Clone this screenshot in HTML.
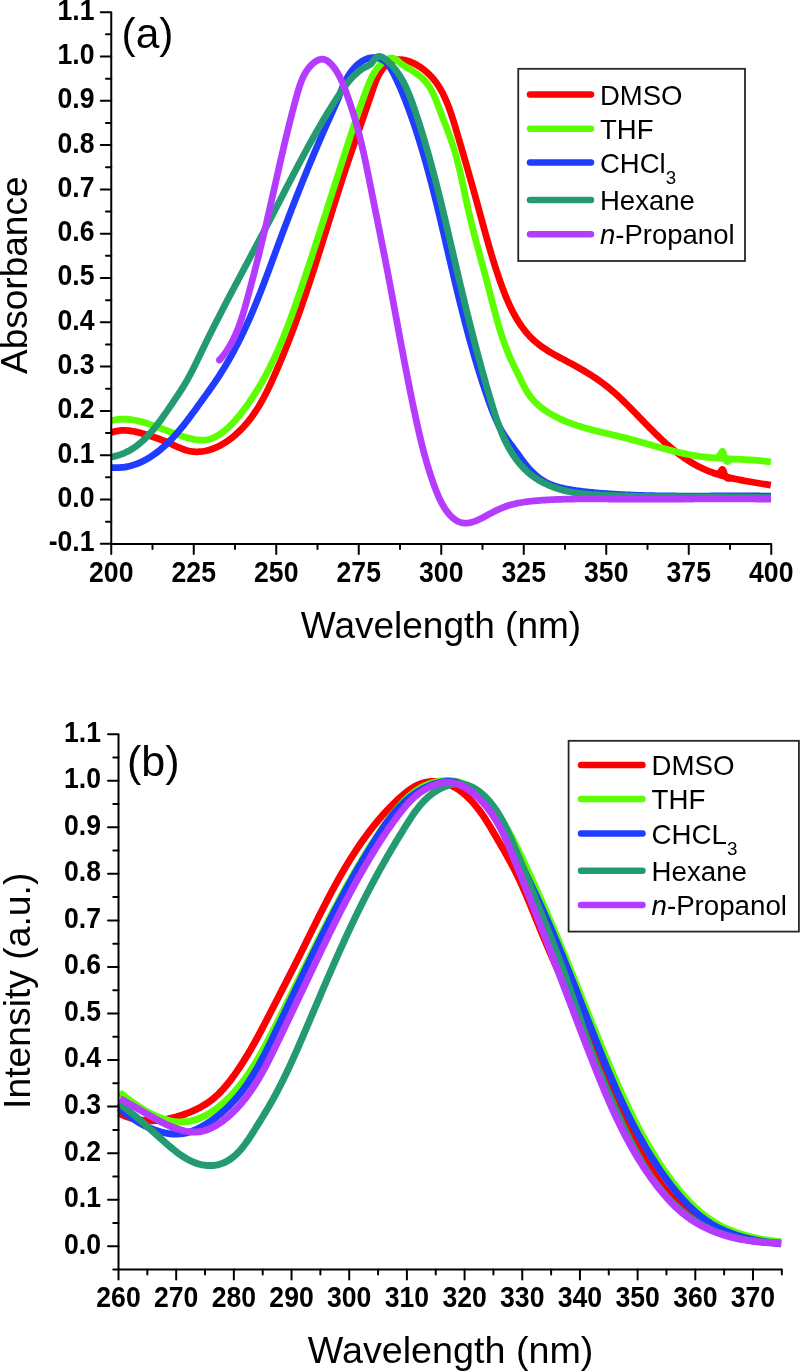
<!DOCTYPE html>
<html><head><meta charset="utf-8"><title>Absorbance and emission spectra</title>
<style>html,body{margin:0;padding:0;background:#fff;width:800px;height:1372px;overflow:hidden}
svg text{font-family:"Liberation Sans", sans-serif;fill:#000}</style></head>
<body>
<svg width="800" height="1372" viewBox="0 0 800 1372" style="position:absolute;left:0;top:0;will-change:transform">
<rect width="800" height="1372" fill="#fff"/>
<text x="441" y="638" text-anchor="middle" font-size="37">Wavelength (nm)</text>
<text x="450.6" y="1363" text-anchor="middle" font-size="37.7">Wavelength (nm)</text>
<text transform="translate(27,275.25) rotate(-90)" text-anchor="middle" font-size="37">Absorbance</text>
<text transform="translate(29.6,990.8) rotate(-90)" text-anchor="middle" font-size="37.3">Intensity (a.u.)</text>
<text x="121.5" y="47.5" font-size="42.5">(a)</text>
<text x="127" y="776" font-size="43">(b)</text>
<path d="M110.97 432.63L112.40 432.15L113.84 431.72L115.29 431.35L116.77 431.04L118.25 430.80L119.74 430.61L121.24 430.48L122.74 430.41L124.25 430.40L125.75 430.43L127.25 430.52L128.75 430.65L130.24 430.83L131.73 431.04L133.21 431.29L134.69 431.58L136.16 431.89L137.62 432.24L139.08 432.60L140.53 432.99L141.98 433.40L143.42 433.82L144.86 434.26L146.30 434.71L147.73 435.16L149.16 435.63L150.59 436.09L152.02 436.56L153.45 437.03L154.88 437.51L156.30 437.99L157.72 438.49L159.14 438.99L160.55 439.51L161.96 440.04L163.36 440.58L164.75 441.14L166.14 441.72L167.52 442.32L168.89 442.93L170.26 443.56L171.63 444.19L172.99 444.83L174.35 445.47L175.71 446.10L177.08 446.72L178.46 447.33L179.84 447.92L181.23 448.49L182.63 449.04L184.05 449.54L185.48 450.01L186.92 450.44L188.38 450.80L189.85 451.12L191.33 451.37L192.82 451.56L194.32 451.69L195.82 451.76L197.33 451.78L198.83 451.74L200.33 451.64L201.82 451.49L203.31 451.28L204.80 451.03L206.27 450.72L207.73 450.37L209.18 449.97L210.62 449.53L212.04 449.05L213.45 448.53L214.85 447.97L216.23 447.38L217.60 446.75L218.95 446.09L220.28 445.39L221.60 444.67L222.90 443.92L224.19 443.14L225.46 442.34L226.72 441.51L227.96 440.66L229.18 439.79L230.39 438.89L231.58 437.97L232.76 437.04L233.92 436.08L235.06 435.11L236.19 434.12L237.31 433.11L238.41 432.08L239.49 431.04L240.56 429.98L241.62 428.91L242.65 427.82L243.68 426.72L244.68 425.60L245.68 424.47L246.65 423.33L247.62 422.17L248.56 421.01L249.49 419.83L250.41 418.64L251.31 417.43L252.20 416.22L253.08 415.00L253.94 413.76L254.79 412.52L255.62 411.27L256.44 410.01L257.25 408.74L258.05 407.47L258.84 406.19L259.61 404.90L260.37 403.60L261.12 402.30L261.86 400.99L262.59 399.68L263.32 398.36L264.03 397.03L264.73 395.70L265.42 394.37L266.11 393.03L266.79 391.69L267.46 390.34L268.12 388.99L268.77 387.64L269.42 386.28L270.07 384.92L270.70 383.56L271.34 382.20L271.96 380.83L272.59 379.46L273.21 378.09L273.82 376.72L274.43 375.34L275.04 373.97L275.65 372.59L276.25 371.22L276.85 369.84L277.45 368.46L278.04 367.08L278.64 365.69L279.23 364.31L279.81 362.93L280.40 361.54L280.98 360.15L281.56 358.76L282.13 357.38L282.70 355.99L283.28 354.59L283.84 353.20L284.41 351.81L284.97 350.41L285.53 349.02L286.09 347.62L286.65 346.23L287.20 344.83L287.75 343.43L288.30 342.03L288.84 340.63L289.39 339.22L289.93 337.82L290.47 336.42L291.01 335.01L291.54 333.61L292.07 332.20L292.60 330.79L293.13 329.39L293.66 327.98L294.18 326.57L294.70 325.16L295.22 323.75L295.74 322.33L296.26 320.92L296.77 319.51L297.28 318.10L297.79 316.68L298.30 315.27L298.81 313.85L299.31 312.43L299.81 311.02L300.31 309.60L300.81 308.18L301.31 306.76L301.80 305.34L302.30 303.92L302.79 302.50L303.28 301.08L303.77 299.65L304.26 298.23L304.74 296.81L305.23 295.39L305.71 293.96L306.19 292.54L306.67 291.11L307.15 289.69L307.63 288.26L308.10 286.83L308.58 285.41L309.05 283.98L309.52 282.55L309.99 281.12L310.46 279.69L310.93 278.27L311.40 276.84L311.87 275.41L312.33 273.98L312.79 272.55L313.26 271.12L313.72 269.69L314.18 268.25L314.64 266.82L315.10 265.39L315.56 263.96L316.02 262.53L316.48 261.09L316.93 259.66L317.39 258.23L317.84 256.79L318.30 255.36L318.75 253.93L319.20 252.49L319.66 251.06L320.11 249.63L320.56 248.19L321.01 246.76L321.46 245.32L321.91 243.89L322.36 242.45L322.81 241.02L323.26 239.58L323.71 238.15L324.16 236.71L324.61 235.28L325.06 233.84L325.50 232.41L325.95 230.97L326.40 229.54L326.85 228.10L327.30 226.66L327.74 225.23L328.19 223.79L328.64 222.36L329.09 220.92L329.53 219.49L329.98 218.05L330.43 216.62L330.88 215.18L331.33 213.75L331.78 212.31L332.23 210.88L332.68 209.44L333.13 208.01L333.58 206.57L334.03 205.14L334.48 203.70L334.93 202.27L335.38 200.83L335.83 199.40L336.29 197.97L336.74 196.53L337.20 195.10L337.65 193.66L338.11 192.23L338.56 190.80L339.02 189.37L339.48 187.93L339.94 186.50L340.40 185.07L340.86 183.64L341.32 182.21L341.78 180.78L342.24 179.35L342.71 177.92L343.17 176.49L343.64 175.06L344.11 173.63L344.58 172.20L345.05 170.77L345.52 169.34L345.99 167.91L346.46 166.49L346.94 165.06L347.41 163.63L347.89 162.21L348.37 160.78L348.85 159.36L349.33 157.93L349.81 156.51L350.29 155.08L350.78 153.66L351.26 152.24L351.75 150.81L352.23 149.39L352.72 147.97L353.21 146.54L353.70 145.12L354.19 143.70L354.68 142.28L355.17 140.86L355.66 139.44L356.15 138.01L356.64 136.59L357.13 135.17L357.62 133.75L358.12 132.33L358.61 130.91L359.10 129.49L359.60 128.07L360.09 126.65L360.58 125.23L361.08 123.81L361.57 122.39L362.06 120.97L362.56 119.55L363.05 118.13L363.54 116.70L364.04 115.28L364.53 113.86L365.02 112.44L365.51 111.02L366.00 109.60L366.49 108.18L366.98 106.76L367.47 105.33L367.96 103.91L368.45 102.49L368.94 101.07L369.42 99.64L369.91 98.22L370.39 96.80L370.88 95.37L371.36 93.95L371.84 92.53L372.32 91.10L372.80 89.68L373.29 88.25L373.78 86.83L374.28 85.41L374.80 84.00L375.33 82.59L375.88 81.20L376.46 79.81L377.07 78.43L377.70 77.07L378.37 75.72L379.08 74.40L379.82 73.09L380.61 71.81L381.43 70.55L382.30 69.32L383.21 68.12L384.17 66.97L385.18 65.86L386.25 64.80L387.38 63.80L388.57 62.88L389.82 62.05L391.14 61.33L392.52 60.73L393.94 60.26L395.41 59.91L396.89 59.67L398.39 59.56L399.89 59.55L401.39 59.63L402.89 59.81L404.37 60.06L405.84 60.39L407.29 60.79L408.72 61.25L410.13 61.76L411.53 62.32L412.90 62.93L414.26 63.58L415.59 64.28L416.90 65.01L418.20 65.78L419.47 66.58L420.72 67.41L421.95 68.28L423.16 69.17L424.35 70.10L425.51 71.05L426.64 72.04L427.76 73.05L428.84 74.09L429.91 75.15L430.94 76.24L431.95 77.35L432.94 78.49L433.90 79.65L434.83 80.83L435.73 82.03L436.62 83.25L437.47 84.48L438.31 85.73L439.11 87.00L439.90 88.29L440.66 89.58L441.40 90.89L442.12 92.21L442.82 93.54L443.49 94.89L444.15 96.24L444.79 97.60L445.42 98.97L446.02 100.34L446.61 101.73L447.19 103.12L447.75 104.51L448.29 105.91L448.83 107.32L449.35 108.73L449.86 110.14L450.36 111.56L450.85 112.98L451.33 114.41L451.80 115.84L452.26 117.27L452.72 118.70L453.17 120.13L453.62 121.57L454.06 123.01L454.50 124.45L454.93 125.88L455.37 127.33L455.80 128.77L456.23 130.21L456.65 131.65L457.08 133.09L457.51 134.53L457.94 135.97L458.36 137.42L458.79 138.86L459.21 140.30L459.64 141.74L460.06 143.19L460.49 144.63L460.91 146.07L461.33 147.51L461.75 148.96L462.18 150.40L462.60 151.84L463.02 153.29L463.44 154.73L463.86 156.18L464.28 157.62L464.69 159.07L465.11 160.51L465.53 161.95L465.94 163.40L466.36 164.84L466.78 166.29L467.19 167.74L467.60 169.18L468.02 170.63L468.43 172.07L468.84 173.52L469.25 174.97L469.66 176.41L470.08 177.86L470.48 179.31L470.89 180.75L471.30 182.20L471.71 183.65L472.12 185.09L472.52 186.54L472.93 187.99L473.34 189.44L473.74 190.89L474.14 192.34L474.55 193.78L474.95 195.23L475.35 196.68L475.75 198.13L476.15 199.58L476.55 201.03L476.95 202.48L477.35 203.93L477.75 205.38L478.15 206.83L478.54 208.28L478.94 209.73L479.34 211.18L479.73 212.63L480.13 214.08L480.52 215.53L480.91 216.99L481.31 218.44L481.70 219.89L482.10 221.34L482.49 222.79L482.89 224.24L483.29 225.69L483.68 227.14L484.08 228.59L484.48 230.04L484.88 231.49L485.28 232.94L485.68 234.39L486.09 235.84L486.49 237.29L486.90 238.73L487.31 240.18L487.72 241.63L488.13 243.07L488.54 244.52L488.96 245.97L489.37 247.41L489.79 248.85L490.22 250.30L490.64 251.74L491.07 253.18L491.50 254.62L491.93 256.06L492.36 257.50L492.80 258.94L493.24 260.38L493.69 261.82L494.14 263.25L494.59 264.69L495.04 266.12L495.50 267.55L495.96 268.98L496.42 270.41L496.89 271.84L497.37 273.27L497.84 274.70L498.32 276.12L498.81 277.54L499.30 278.97L499.79 280.39L500.29 281.81L500.79 283.22L501.30 284.64L501.81 286.05L502.33 287.46L502.85 288.87L503.38 290.28L503.92 291.68L504.46 293.09L505.02 294.49L505.58 295.88L506.14 297.27L506.72 298.66L507.31 300.04L507.91 301.43L508.51 302.80L509.13 304.17L509.76 305.54L510.40 306.90L511.05 308.25L511.72 309.60L512.39 310.95L513.08 312.28L513.79 313.61L514.51 314.93L515.24 316.24L515.99 317.55L516.75 318.85L517.53 320.13L518.32 321.41L519.13 322.68L519.96 323.93L520.80 325.18L521.66 326.41L522.54 327.63L523.44 328.83L524.36 330.02L525.30 331.20L526.25 332.36L527.23 333.51L528.22 334.64L529.23 335.75L530.27 336.84L531.32 337.91L532.40 338.96L533.49 340.00L534.60 341.01L535.73 342.00L536.89 342.96L538.06 343.91L539.24 344.83L540.45 345.73L541.66 346.62L542.89 347.48L544.14 348.33L545.39 349.16L546.66 349.97L547.93 350.77L549.21 351.55L550.50 352.33L551.80 353.09L553.10 353.84L554.41 354.58L555.72 355.32L557.04 356.04L558.36 356.76L559.68 357.48L561.01 358.19L562.33 358.89L563.66 359.60L564.99 360.30L566.32 361.01L567.65 361.71L568.98 362.41L570.30 363.12L571.63 363.83L572.95 364.55L574.27 365.27L575.59 366.00L576.90 366.73L578.21 367.47L579.52 368.21L580.82 368.96L582.12 369.71L583.42 370.47L584.71 371.24L586.00 372.02L587.29 372.80L588.56 373.59L589.84 374.39L591.11 375.20L592.37 376.01L593.63 376.84L594.88 377.67L596.13 378.51L597.37 379.36L598.60 380.22L599.83 381.09L601.05 381.97L602.26 382.86L603.47 383.76L604.67 384.67L605.86 385.59L607.04 386.52L608.21 387.46L609.37 388.41L610.53 389.37L611.68 390.34L612.82 391.32L613.96 392.30L615.08 393.30L616.20 394.30L617.32 395.31L618.43 396.33L619.53 397.35L620.62 398.38L621.71 399.42L622.80 400.46L623.88 401.50L624.96 402.55L626.03 403.61L627.10 404.67L628.16 405.73L629.22 406.80L630.28 407.86L631.33 408.94L632.39 410.01L633.44 411.09L634.48 412.17L635.53 413.24L636.58 414.33L637.62 415.41L638.66 416.49L639.71 417.57L640.75 418.66L641.79 419.74L642.84 420.82L643.88 421.90L644.93 422.98L645.98 424.06L647.03 425.14L648.08 426.21L649.13 427.29L650.19 428.36L651.25 429.42L652.31 430.49L653.38 431.55L654.45 432.61L655.52 433.66L656.60 434.71L657.68 435.75L658.77 436.79L659.86 437.83L660.95 438.85L662.05 439.88L663.16 440.90L664.27 441.91L665.39 442.91L666.52 443.91L667.65 444.90L668.78 445.89L669.93 446.87L671.08 447.84L672.23 448.80L673.40 449.75L674.57 450.69L675.75 451.63L676.93 452.55L678.12 453.47L679.33 454.37L680.54 455.26L681.75 456.15L682.98 457.02L684.21 457.88L685.46 458.72L686.71 459.56L687.97 460.38L689.24 461.19L690.51 461.98L691.80 462.76L693.09 463.52L694.40 464.27L695.71 465.01L697.03 465.72L698.36 466.42L699.70 467.11L701.05 467.77L702.41 468.42L703.77 469.05L705.14 469.67L706.53 470.26L707.91 470.84L709.31 471.39L710.72 471.93L712.13 472.46L713.54 472.96L714.96 473.45L716.39 473.93L717.82 474.39L719.26 474.83L720.70 475.26L722.14 475.68L723.59 476.09L725.04 476.48L726.50 476.86L727.95 477.23L729.41 477.59L730.88 477.94L732.34 478.28L733.81 478.61L735.28 478.93L736.75 479.24L738.22 479.55L739.70 479.85L741.17 480.13L742.65 480.42L744.13 480.70L745.60 480.97L747.08 481.23L748.57 481.50L750.05 481.75L751.53 482.01L753.01 482.26L754.49 482.51L755.98 482.75L757.46 483.00L758.95 483.24L760.43 483.48L761.91 483.72L763.40 483.96L764.88 484.20L766.37 484.45L767.85 484.69L769.33 484.94L770.82 485.19" fill="none" stroke="#ff0000" stroke-width="6.75" stroke-linejoin="round" stroke-linecap="butt"/>
<path d="M111.05 420.70L112.50 420.32L113.97 420.00L115.45 419.72L116.93 419.50L118.43 419.33L119.92 419.21L121.42 419.13L122.93 419.10L124.43 419.12L125.93 419.17L127.43 419.27L128.93 419.40L130.42 419.56L131.91 419.76L133.40 419.99L134.88 420.25L136.35 420.54L137.82 420.86L139.28 421.20L140.74 421.56L142.20 421.94L143.64 422.34L145.09 422.76L146.52 423.20L147.96 423.66L149.39 424.12L150.81 424.60L152.23 425.09L153.65 425.60L155.06 426.11L156.47 426.63L157.87 427.16L159.28 427.69L160.68 428.23L162.08 428.77L163.48 429.32L164.88 429.86L166.28 430.41L167.69 430.95L169.09 431.50L170.49 432.04L171.89 432.57L173.30 433.10L174.71 433.62L176.12 434.13L177.54 434.63L178.96 435.13L180.38 435.61L181.81 436.07L183.24 436.53L184.68 436.97L186.12 437.39L187.57 437.80L189.02 438.19L190.48 438.56L191.94 438.90L193.41 439.21L194.89 439.49L196.37 439.73L197.86 439.93L199.36 440.07L200.86 440.15L202.36 440.17L203.86 440.12L205.36 439.99L206.84 439.77L208.32 439.47L209.77 439.08L211.20 438.62L212.61 438.09L213.99 437.50L215.34 436.85L216.67 436.15L217.97 435.39L219.24 434.60L220.50 433.77L221.72 432.90L222.93 432.00L224.11 431.08L225.28 430.13L226.42 429.16L227.55 428.16L228.66 427.15L229.75 426.11L230.82 425.06L231.88 423.99L232.92 422.91L233.94 421.81L234.95 420.69L235.95 419.57L236.93 418.43L237.90 417.28L238.86 416.12L239.80 414.96L240.74 413.78L241.66 412.60L242.58 411.41L243.49 410.21L244.39 409.01L245.29 407.80L246.17 406.59L247.05 405.37L247.92 404.14L248.78 402.91L249.64 401.68L250.49 400.44L251.33 399.19L252.17 397.94L252.99 396.69L253.81 395.43L254.63 394.16L255.43 392.90L256.23 391.62L257.02 390.35L257.81 389.06L258.58 387.78L259.35 386.49L260.12 385.19L260.88 383.90L261.63 382.59L262.37 381.29L263.11 379.98L263.84 378.66L264.56 377.35L265.28 376.03L265.99 374.70L266.69 373.38L267.39 372.05L268.09 370.71L268.77 369.38L269.45 368.04L270.13 366.69L270.80 365.35L271.46 364.00L272.12 362.65L272.77 361.29L273.42 359.94L274.06 358.58L274.69 357.22L275.32 355.85L275.95 354.49L276.57 353.12L277.18 351.75L277.79 350.37L278.40 349.00L279.00 347.62L279.60 346.24L280.19 344.86L280.77 343.47L281.36 342.09L281.93 340.70L282.51 339.31L283.08 337.92L283.64 336.53L284.21 335.14L284.76 333.74L285.32 332.34L285.87 330.95L286.42 329.55L286.96 328.15L287.50 326.74L288.04 325.34L288.57 323.93L289.10 322.53L289.63 321.12L290.15 319.71L290.67 318.30L291.19 316.89L291.71 315.48L292.22 314.07L292.73 312.66L293.24 311.24L293.74 309.83L294.25 308.41L294.75 306.99L295.25 305.58L295.75 304.16L296.24 302.74L296.74 301.32L297.23 299.90L297.72 298.48L298.21 297.06L298.70 295.64L299.19 294.22L299.67 292.79L300.16 291.37L300.64 289.95L301.12 288.53L301.60 287.10L302.08 285.68L302.56 284.25L303.04 282.83L303.52 281.41L304.00 279.98L304.48 278.56L304.95 277.13L305.43 275.71L305.90 274.28L306.38 272.85L306.85 271.43L307.33 270.00L307.80 268.57L308.27 267.15L308.74 265.72L309.21 264.29L309.68 262.87L310.15 261.44L310.62 260.01L311.09 258.58L311.56 257.15L312.02 255.73L312.49 254.30L312.96 252.87L313.42 251.44L313.89 250.01L314.35 248.58L314.82 247.15L315.28 245.72L315.74 244.29L316.21 242.86L316.67 241.43L317.13 240.00L317.59 238.57L318.05 237.14L318.51 235.71L318.98 234.28L319.44 232.85L319.90 231.42L320.36 229.99L320.82 228.56L321.27 227.13L321.73 225.70L322.19 224.27L322.65 222.84L323.11 221.41L323.57 219.97L324.02 218.54L324.48 217.11L324.94 215.68L325.40 214.25L325.85 212.82L326.31 211.39L326.77 209.95L327.22 208.52L327.68 207.09L328.14 205.66L328.59 204.23L329.05 202.80L329.51 201.36L329.96 199.93L330.42 198.50L330.88 197.07L331.33 195.64L331.79 194.20L332.24 192.77L332.70 191.34L333.16 189.91L333.61 188.48L334.07 187.05L334.53 185.61L334.98 184.18L335.44 182.75L335.90 181.32L336.35 179.89L336.81 178.46L337.27 177.02L337.72 175.59L338.18 174.16L338.64 172.73L339.10 171.30L339.56 169.87L340.01 168.44L340.47 167.00L340.93 165.57L341.39 164.14L341.85 162.71L342.31 161.28L342.77 159.85L343.23 158.42L343.69 156.99L344.15 155.56L344.61 154.13L345.08 152.70L345.54 151.27L346.00 149.84L346.46 148.41L346.93 146.98L347.39 145.55L347.86 144.12L348.32 142.69L348.79 141.26L349.25 139.83L349.72 138.41L350.18 136.98L350.65 135.55L351.12 134.12L351.59 132.69L352.06 131.27L352.53 129.84L353.00 128.41L353.47 126.98L353.94 125.56L354.41 124.13L354.88 122.70L355.36 121.28L355.83 119.85L356.31 118.43L356.79 117.00L357.27 115.58L357.75 114.16L358.24 112.73L358.72 111.31L359.21 109.89L359.70 108.47L360.19 107.05L360.69 105.63L361.18 104.21L361.68 102.79L362.19 101.38L362.69 99.96L363.20 98.55L363.71 97.14L364.22 95.72L364.74 94.31L365.26 92.90L365.79 91.49L366.31 90.09L366.85 88.68L367.39 87.28L367.93 85.88L368.49 84.48L369.07 83.10L369.65 81.71L370.26 80.34L370.89 78.97L371.55 77.62L372.23 76.28L372.94 74.96L373.68 73.65L374.46 72.37L375.27 71.10L376.12 69.86L377.01 68.65L377.94 67.47L378.92 66.33L379.93 65.22L380.99 64.15L382.09 63.13L383.23 62.16L384.42 61.23L385.64 60.36L386.92 59.56L388.25 58.87L389.65 58.33L391.12 58.01L392.62 58.03L394.06 58.44L395.38 59.14L396.62 60.00L397.79 60.94L398.94 61.90L400.10 62.86L401.28 63.79L402.51 64.66L403.77 65.47L405.05 66.26L406.33 67.05L407.61 67.83L408.89 68.62L410.17 69.41L411.44 70.21L412.71 71.02L413.96 71.85L415.21 72.69L416.44 73.55L417.65 74.44L418.85 75.34L420.03 76.28L421.17 77.25L422.29 78.25L423.38 79.29L424.43 80.37L425.44 81.48L426.40 82.64L427.32 83.82L428.20 85.04L429.04 86.28L429.85 87.55L430.62 88.85L431.35 90.16L432.06 91.48L432.73 92.83L433.38 94.18L434.01 95.55L434.62 96.92L435.20 98.30L435.77 99.69L436.33 101.09L436.88 102.49L437.42 103.89L437.95 105.30L438.48 106.70L439.00 108.11L439.53 109.52L440.06 110.93L440.60 112.33L441.14 113.73L441.68 115.13L442.22 116.54L442.76 117.94L443.31 119.34L443.86 120.74L444.40 122.14L444.95 123.54L445.49 124.94L446.04 126.34L446.58 127.74L447.12 129.14L447.65 130.55L448.18 131.95L448.71 133.36L449.23 134.77L449.74 136.18L450.25 137.60L450.76 139.01L451.25 140.43L451.74 141.85L452.22 143.28L452.69 144.71L453.15 146.14L453.60 147.57L454.04 149.01L454.47 150.44L454.90 151.89L455.32 153.33L455.73 154.77L456.13 156.22L456.53 157.67L456.92 159.12L457.30 160.58L457.67 162.03L458.04 163.49L458.41 164.95L458.77 166.41L459.12 167.87L459.47 169.33L459.82 170.79L460.16 172.25L460.49 173.72L460.82 175.18L461.15 176.65L461.48 178.12L461.80 179.59L462.12 181.05L462.44 182.52L462.76 183.99L463.07 185.46L463.39 186.93L463.70 188.40L464.01 189.87L464.32 191.34L464.63 192.81L464.94 194.28L465.25 195.75L465.56 197.22L465.87 198.69L466.19 200.16L466.50 201.63L466.82 203.10L467.14 204.57L467.46 206.04L467.78 207.51L468.11 208.97L468.43 210.44L468.77 211.90L469.10 213.37L469.44 214.83L469.78 216.30L470.13 217.76L470.48 219.22L470.83 220.68L471.18 222.14L471.54 223.60L471.90 225.06L472.26 226.52L472.63 227.98L473.00 229.43L473.37 230.89L473.74 232.35L474.11 233.80L474.49 235.26L474.87 236.71L475.25 238.17L475.63 239.62L476.01 241.07L476.40 242.52L476.78 243.98L477.17 245.43L477.56 246.88L477.95 248.33L478.34 249.78L478.73 251.23L479.12 252.69L479.51 254.14L479.91 255.59L480.30 257.04L480.69 258.49L481.09 259.94L481.48 261.39L481.88 262.84L482.27 264.29L482.66 265.74L483.06 267.19L483.45 268.64L483.84 270.09L484.24 271.54L484.63 272.99L485.02 274.44L485.41 275.89L485.80 277.34L486.19 278.80L486.57 280.25L486.96 281.70L487.34 283.15L487.73 284.61L488.11 286.06L488.49 287.51L488.87 288.97L489.24 290.42L489.62 291.88L489.99 293.33L490.36 294.79L490.74 296.25L491.11 297.70L491.48 299.16L491.86 300.61L492.23 302.07L492.61 303.52L492.98 304.98L493.36 306.43L493.74 307.89L494.12 309.34L494.50 310.79L494.89 312.25L495.28 313.70L495.67 315.15L496.07 316.60L496.46 318.05L496.87 319.50L497.27 320.94L497.68 322.39L498.10 323.83L498.52 325.27L498.95 326.72L499.38 328.15L499.82 329.59L500.26 331.03L500.71 332.46L501.16 333.89L501.63 335.32L502.10 336.75L502.58 338.18L503.06 339.60L503.55 341.02L504.05 342.44L504.56 343.85L505.08 345.26L505.61 346.67L506.15 348.07L506.69 349.47L507.25 350.87L507.81 352.26L508.39 353.65L508.97 355.03L509.57 356.41L510.18 357.79L510.80 359.16L511.42 360.52L512.06 361.88L512.70 363.24L513.35 364.60L514.00 365.95L514.66 367.30L515.32 368.65L515.98 370.00L516.65 371.35L517.31 372.69L517.98 374.04L518.64 375.39L519.30 376.74L519.96 378.09L520.62 379.44L521.27 380.80L521.93 382.15L522.59 383.50L523.27 384.84L523.95 386.18L524.65 387.51L525.37 388.83L526.11 390.13L526.88 391.43L527.67 392.71L528.49 393.96L529.34 395.20L530.23 396.41L531.15 397.60L532.10 398.76L533.09 399.90L534.10 401.01L535.14 402.09L536.21 403.15L537.30 404.18L538.42 405.18L539.56 406.16L540.72 407.12L541.90 408.05L543.10 408.95L544.32 409.84L545.55 410.70L546.80 411.54L548.06 412.35L549.33 413.15L550.62 413.92L551.92 414.67L553.23 415.41L554.55 416.12L555.89 416.82L557.23 417.50L558.58 418.16L559.93 418.81L561.30 419.44L562.67 420.05L564.05 420.65L565.43 421.23L566.82 421.80L568.22 422.35L569.62 422.89L571.03 423.42L572.44 423.93L573.86 424.44L575.28 424.92L576.71 425.40L578.13 425.87L579.57 426.32L581.00 426.77L582.44 427.20L583.88 427.63L585.33 428.04L586.77 428.45L588.22 428.85L589.67 429.24L591.12 429.63L592.58 430.01L594.03 430.38L595.49 430.75L596.95 431.11L598.41 431.47L599.87 431.83L601.33 432.18L602.79 432.53L604.25 432.88L605.71 433.22L607.18 433.57L608.64 433.91L610.10 434.25L611.57 434.60L613.03 434.94L614.49 435.28L615.95 435.63L617.42 435.98L618.88 436.33L620.34 436.68L621.80 437.04L623.26 437.40L624.71 437.77L626.17 438.14L627.63 438.51L629.08 438.90L630.53 439.28L631.98 439.67L633.43 440.06L634.88 440.46L636.33 440.86L637.78 441.26L639.23 441.66L640.68 442.07L642.12 442.47L643.57 442.88L645.01 443.29L646.46 443.70L647.90 444.12L649.35 444.53L650.80 444.94L652.24 445.35L653.69 445.76L655.13 446.17L656.58 446.57L658.03 446.98L659.47 447.38L660.92 447.78L662.37 448.18L663.82 448.58L665.27 448.97L666.72 449.36L668.18 449.74L669.63 450.12L671.09 450.49L672.54 450.86L674.00 451.23L675.46 451.59L676.92 451.94L678.38 452.28L679.85 452.62L681.31 452.95L682.78 453.28L684.25 453.60L685.72 453.90L687.19 454.20L688.67 454.50L690.14 454.78L691.62 455.05L693.10 455.31L694.58 455.57L696.07 455.81L697.55 456.04L699.04 456.26L700.53 456.47L702.02 456.67L703.51 456.85L705.00 457.03L706.49 457.19L707.99 457.35L709.48 457.50L710.98 457.63L712.48 457.76L713.97 457.89L715.47 458.00L716.97 458.11L718.47 458.22L719.97 458.31L721.47 458.41L722.97 458.50L724.47 458.58L725.97 458.66L727.47 458.74L728.97 458.82L730.47 458.89L731.97 458.96L733.48 459.03L734.98 459.10L736.48 459.17L737.98 459.25L739.48 459.32L740.98 459.39L742.48 459.47L743.98 459.55L745.48 459.63L746.98 459.71L748.48 459.80L749.98 459.89L751.48 459.99L752.98 460.09L754.48 460.20L755.98 460.32L757.48 460.44L758.97 460.57L760.47 460.71L761.97 460.86L763.46 461.02L764.95 461.18L766.45 461.36L767.94 461.55L769.43 461.74L770.92 461.95" fill="none" stroke="#5cff00" stroke-width="6.75" stroke-linejoin="round" stroke-linecap="butt"/>
<path d="M715 473.5 Q719 474.8 721.2 470 Q723.2 466.2 725.2 475.5 Q726.8 480.5 731.5 478" fill="none" stroke="#ff0000" stroke-width="6" stroke-linejoin="round"/>
<path d="M715 457.2 Q719 457.8 721.2 452 Q723.2 447.8 725.2 459 Q726.8 465 731.5 458.8" fill="none" stroke="#5cff00" stroke-width="6" stroke-linejoin="round"/>
<path d="M110.86 467.45L112.36 467.57L113.86 467.66L115.36 467.70L116.86 467.70L118.36 467.67L119.86 467.59L121.36 467.47L122.85 467.32L124.34 467.12L125.82 466.88L127.30 466.60L128.77 466.29L130.23 465.94L131.68 465.55L133.12 465.12L134.55 464.66L135.97 464.16L137.37 463.64L138.77 463.07L140.15 462.48L141.51 461.86L142.87 461.21L144.21 460.53L145.53 459.83L146.85 459.10L148.14 458.34L149.43 457.56L150.70 456.76L151.95 455.94L153.19 455.09L154.42 454.23L155.64 453.34L156.84 452.44L158.03 451.52L159.20 450.58L160.36 449.63L161.51 448.66L162.65 447.68L163.77 446.69L164.88 445.68L165.98 444.66L167.07 443.62L168.15 442.57L169.22 441.52L170.27 440.45L171.32 439.37L172.36 438.28L173.38 437.19L174.40 436.08L175.40 434.97L176.40 433.84L177.39 432.71L178.37 431.58L179.34 430.43L180.31 429.28L181.26 428.12L182.21 426.96L183.16 425.79L184.09 424.61L185.02 423.43L185.94 422.25L186.86 421.06L187.77 419.86L188.68 418.67L189.58 417.46L190.48 416.26L191.37 415.05L192.26 413.85L193.15 412.63L194.04 411.42L194.92 410.21L195.80 408.99L196.68 407.77L197.56 406.56L198.44 405.34L199.32 404.12L200.20 402.90L201.08 401.69L201.96 400.47L202.84 399.25L203.72 398.03L204.60 396.82L205.47 395.60L206.35 394.38L207.22 393.15L208.10 391.93L208.97 390.71L209.83 389.48L210.70 388.25L211.56 387.02L212.42 385.79L213.27 384.56L214.13 383.32L214.97 382.08L215.82 380.83L216.65 379.59L217.49 378.34L218.32 377.09L219.14 375.83L219.95 374.57L220.77 373.30L221.57 372.04L222.37 370.76L223.16 369.49L223.95 368.21L224.73 366.93L225.51 365.64L226.28 364.35L227.04 363.06L227.80 361.76L228.55 360.46L229.30 359.16L230.04 357.85L230.78 356.54L231.51 355.23L232.23 353.92L232.95 352.60L233.67 351.28L234.38 349.95L235.08 348.63L235.78 347.30L236.47 345.97L237.16 344.63L237.85 343.29L238.53 341.95L239.20 340.61L239.87 339.27L240.54 337.92L241.20 336.57L241.86 335.22L242.51 333.87L243.16 332.52L243.80 331.16L244.44 329.80L245.07 328.44L245.71 327.07L246.33 325.71L246.95 324.34L247.57 322.97L248.19 321.60L248.80 320.23L249.41 318.86L250.01 317.48L250.61 316.11L251.21 314.73L251.80 313.35L252.39 311.97L252.98 310.58L253.56 309.20L254.14 307.81L254.72 306.43L255.29 305.04L255.86 303.65L256.43 302.26L256.99 300.87L257.55 299.47L258.11 298.08L258.67 296.69L259.22 295.29L259.78 293.89L260.33 292.49L260.87 291.10L261.42 289.70L261.96 288.30L262.50 286.90L263.04 285.49L263.58 284.09L264.12 282.69L264.65 281.28L265.18 279.88L265.71 278.47L266.24 277.07L266.77 275.66L267.30 274.26L267.82 272.85L268.35 271.44L268.87 270.03L269.40 268.63L269.92 267.22L270.44 265.81L270.96 264.40L271.48 262.99L272.00 261.58L272.52 260.17L273.04 258.76L273.56 257.35L274.08 255.95L274.59 254.54L275.11 253.13L275.63 251.72L276.15 250.31L276.67 248.90L277.19 247.49L277.71 246.08L278.23 244.67L278.75 243.26L279.27 241.85L279.80 240.45L280.32 239.04L280.85 237.63L281.37 236.22L281.90 234.82L282.42 233.41L282.95 232.00L283.48 230.60L284.01 229.19L284.54 227.79L285.07 226.38L285.60 224.98L286.13 223.57L286.67 222.17L287.20 220.76L287.74 219.36L288.27 217.96L288.81 216.56L289.35 215.15L289.89 213.75L290.43 212.35L290.97 210.95L291.51 209.55L292.05 208.15L292.59 206.75L293.14 205.35L293.68 203.95L294.23 202.55L294.77 201.15L295.32 199.75L295.87 198.35L296.42 196.95L296.97 195.56L297.52 194.16L298.08 192.76L298.63 191.37L299.19 189.97L299.74 188.58L300.30 187.18L300.86 185.79L301.41 184.39L301.97 183.00L302.53 181.61L303.10 180.21L303.66 178.82L304.22 177.43L304.79 176.04L305.35 174.64L305.92 173.25L306.49 171.86L307.06 170.47L307.63 169.08L308.20 167.70L308.77 166.31L309.35 164.92L309.92 163.53L310.50 162.14L311.07 160.76L311.65 159.37L312.23 157.98L312.81 156.60L313.39 155.21L313.97 153.83L314.56 152.45L315.14 151.06L315.73 149.68L316.32 148.30L316.90 146.92L317.49 145.53L318.08 144.15L318.68 142.77L319.27 141.39L319.86 140.01L320.46 138.63L321.06 137.26L321.65 135.88L322.25 134.50L322.85 133.12L323.45 131.75L324.06 130.37L324.66 129.00L325.26 127.62L325.87 126.25L326.48 124.87L327.09 123.50L327.70 122.13L328.31 120.76L328.92 119.38L329.53 118.01L330.15 116.64L330.77 115.27L331.38 113.90L332.00 112.54L332.62 111.17L333.24 109.80L333.86 108.43L334.47 107.06L335.08 105.69L335.68 104.31L336.28 102.93L336.88 101.55L337.46 100.17L338.04 98.78L338.60 97.39L339.16 96.00L339.70 94.60L340.24 93.19L340.78 91.79L341.32 90.39L341.87 88.99L342.43 87.60L343.00 86.21L343.59 84.83L344.21 83.46L344.85 82.10L345.52 80.76L346.22 79.43L346.95 78.11L347.71 76.82L348.50 75.54L349.32 74.29L350.18 73.05L351.06 71.84L351.98 70.65L352.93 69.48L353.91 68.35L354.92 67.24L355.98 66.17L357.06 65.13L358.19 64.13L359.35 63.18L360.55 62.28L361.79 61.43L363.07 60.65L364.39 59.94L365.75 59.30L367.15 58.75L368.58 58.30L370.04 57.95L371.53 57.72L373.02 57.60L374.52 57.59L376.02 57.70L377.50 57.93L378.96 58.29L380.39 58.77L381.76 59.37L383.08 60.10L384.32 60.94L385.48 61.89L386.56 62.94L387.56 64.05L388.50 65.23L389.38 66.44L390.21 67.69L391.00 68.97L391.75 70.27L392.47 71.59L393.18 72.92L393.86 74.25L394.54 75.60L395.20 76.94L395.86 78.29L396.51 79.65L397.15 81.01L397.78 82.37L398.41 83.73L399.02 85.10L399.63 86.48L400.23 87.85L400.83 89.23L401.42 90.61L402.00 92.00L402.57 93.39L403.14 94.78L403.70 96.17L404.26 97.56L404.81 98.96L405.36 100.36L405.90 101.76L406.44 103.16L406.97 104.57L407.50 105.97L408.02 107.38L408.55 108.79L409.06 110.20L409.58 111.61L410.09 113.02L410.59 114.44L411.10 115.85L411.60 117.27L412.09 118.69L412.59 120.10L413.08 121.52L413.56 122.95L414.05 124.37L414.52 125.79L415.00 127.22L415.47 128.64L415.94 130.07L416.41 131.50L416.87 132.92L417.33 134.35L417.79 135.78L418.25 137.22L418.70 138.65L419.15 140.08L419.59 141.52L420.03 142.95L420.47 144.39L420.91 145.82L421.35 147.26L421.78 148.70L422.21 150.14L422.63 151.58L423.06 153.02L423.48 154.46L423.90 155.90L424.31 157.35L424.73 158.79L425.14 160.24L425.55 161.68L425.96 163.13L426.36 164.57L426.76 166.02L427.16 167.47L427.56 168.92L427.96 170.37L428.35 171.81L428.74 173.26L429.13 174.72L429.52 176.17L429.91 177.62L430.29 179.07L430.68 180.52L431.06 181.97L431.43 183.43L431.81 184.88L432.19 186.34L432.56 187.79L432.93 189.25L433.30 190.70L433.67 192.16L434.04 193.61L434.41 195.07L434.77 196.53L435.13 197.99L435.50 199.44L435.86 200.90L436.22 202.36L436.57 203.82L436.93 205.28L437.29 206.74L437.64 208.20L438.00 209.66L438.35 211.12L438.70 212.58L439.05 214.04L439.40 215.50L439.75 216.96L440.10 218.42L440.45 219.88L440.79 221.34L441.14 222.80L441.48 224.26L441.83 225.73L442.17 227.19L442.52 228.65L442.86 230.11L443.20 231.57L443.55 233.04L443.89 234.50L444.23 235.96L444.57 237.43L444.91 238.89L445.25 240.35L445.59 241.81L445.93 243.28L446.27 244.74L446.61 246.20L446.95 247.67L447.29 249.13L447.63 250.59L447.97 252.05L448.31 253.52L448.65 254.98L448.99 256.44L449.33 257.91L449.67 259.37L450.02 260.83L450.36 262.29L450.70 263.76L451.04 265.22L451.38 266.68L451.73 268.14L452.07 269.61L452.42 271.07L452.76 272.53L453.11 273.99L453.45 275.45L453.80 276.91L454.14 278.38L454.49 279.84L454.84 281.30L455.19 282.76L455.54 284.22L455.89 285.68L456.24 287.14L456.59 288.60L456.94 290.06L457.30 291.52L457.65 292.98L458.01 294.44L458.36 295.90L458.72 297.36L459.08 298.82L459.44 300.27L459.80 301.73L460.16 303.19L460.53 304.65L460.89 306.10L461.25 307.56L461.62 309.02L461.99 310.47L462.36 311.93L462.73 313.39L463.10 314.84L463.47 316.30L463.85 317.75L464.22 319.20L464.60 320.66L464.98 322.11L465.36 323.57L465.74 325.02L466.12 326.47L466.50 327.92L466.89 329.37L467.28 330.83L467.67 332.28L468.06 333.73L468.45 335.18L468.85 336.63L469.24 338.07L469.64 339.52L470.04 340.97L470.44 342.42L470.84 343.86L471.25 345.31L471.66 346.76L472.07 348.20L472.48 349.65L472.89 351.09L473.31 352.53L473.72 353.98L474.14 355.42L474.56 356.86L474.99 358.30L475.41 359.74L475.84 361.18L476.27 362.62L476.70 364.06L477.14 365.50L477.57 366.93L478.01 368.37L478.46 369.81L478.90 371.24L479.35 372.67L479.79 374.11L480.25 375.54L480.70 376.97L481.16 378.40L481.61 379.83L482.08 381.26L482.54 382.69L483.01 384.12L483.48 385.55L483.95 386.97L484.42 388.40L484.90 389.82L485.38 391.24L485.86 392.67L486.35 394.09L486.83 395.51L487.33 396.93L487.82 398.35L488.32 399.76L488.82 401.18L489.32 402.59L489.83 404.01L490.34 405.42L490.86 406.83L491.38 408.24L491.92 409.64L492.46 411.04L493.01 412.44L493.57 413.83L494.14 415.22L494.72 416.61L495.31 417.99L495.91 419.36L496.53 420.73L497.16 422.10L497.81 423.45L498.47 424.80L499.14 426.14L499.83 427.48L500.54 428.80L501.27 430.11L502.01 431.42L502.78 432.71L503.56 434.00L504.36 435.27L505.18 436.52L506.01 437.77L506.86 439.01L507.72 440.24L508.60 441.47L509.47 442.68L510.36 443.90L511.25 445.11L512.15 446.31L513.04 447.52L513.94 448.72L514.84 449.93L515.73 451.14L516.61 452.35L517.49 453.57L518.37 454.78L519.25 456.00L520.13 457.22L521.01 458.44L521.89 459.65L522.79 460.86L523.69 462.06L524.60 463.25L525.53 464.43L526.47 465.60L527.43 466.76L528.41 467.90L529.41 469.02L530.43 470.12L531.48 471.20L532.55 472.26L533.63 473.29L534.75 474.30L535.88 475.29L537.03 476.25L538.21 477.18L539.41 478.08L540.63 478.96L541.87 479.80L543.14 480.61L544.43 481.38L545.73 482.12L547.06 482.82L548.41 483.48L549.78 484.10L551.17 484.68L552.57 485.22L553.98 485.72L555.41 486.19L556.85 486.63L558.29 487.04L559.74 487.42L561.20 487.78L562.67 488.12L564.13 488.43L565.61 488.73L567.08 489.02L568.56 489.30L570.04 489.56L571.52 489.81L573.00 490.06L574.48 490.29L575.97 490.52L577.45 490.73L578.94 490.94L580.43 491.14L581.92 491.33L583.41 491.51L584.90 491.69L586.39 491.86L587.89 492.02L589.38 492.18L590.87 492.33L592.37 492.48L593.87 492.62L595.36 492.76L596.86 492.89L598.35 493.02L599.85 493.14L601.35 493.26L602.84 493.38L604.34 493.49L605.84 493.60L607.34 493.71L608.84 493.82L610.34 493.92L611.83 494.02L613.33 494.11L614.83 494.20L616.33 494.29L617.83 494.38L619.33 494.47L620.83 494.55L622.33 494.63L623.83 494.70L625.33 494.77L626.83 494.85L628.33 494.91L629.83 494.98L631.33 495.04L632.83 495.10L634.33 495.16L635.83 495.22L637.34 495.27L638.84 495.32L640.34 495.37L641.84 495.42L643.34 495.46L644.84 495.51L646.34 495.55L647.84 495.59L649.35 495.62L650.85 495.66L652.35 495.69L653.85 495.72L655.35 495.75L656.85 495.78L658.36 495.81L659.86 495.83L661.36 495.85L662.86 495.87L664.36 495.89L665.87 495.91L667.37 495.93L668.87 495.94L670.37 495.96L671.87 495.97L673.37 495.98L674.88 495.99L676.38 496.00L677.88 496.01L679.38 496.02L680.88 496.02L682.39 496.03L683.89 496.03L685.39 496.04L686.89 496.04L688.39 496.04L689.90 496.04L691.40 496.04L692.90 496.04L694.40 496.04L695.90 496.04L697.41 496.03L698.91 496.03L700.41 496.03L701.91 496.02L703.41 496.02L704.92 496.01L706.42 496.01L707.92 496.00L709.42 496.00L710.92 495.99L712.43 495.99L713.93 495.98L715.43 495.97L716.93 495.97L718.43 495.96L719.94 495.96L721.44 495.95L722.94 495.95L724.44 495.94L725.94 495.94L727.45 495.93L728.95 495.93L730.45 495.92L731.95 495.92L733.45 495.92L734.96 495.92L736.46 495.91L737.96 495.91L739.46 495.91L740.96 495.91L742.46 495.91L743.97 495.92L745.47 495.92L746.97 495.92L748.47 495.93L749.97 495.93L751.48 495.94L752.98 495.95L754.48 495.95L755.98 495.96L757.48 495.97L758.99 495.99L760.49 496.00L761.99 496.01L763.49 496.03L764.99 496.05L766.50 496.07L768.00 496.09L769.50 496.11L771.00 496.13" fill="none" stroke="#1f3cff" stroke-width="6.75" stroke-linejoin="round" stroke-linecap="butt"/>
<path d="M110.74 457.02L112.22 456.76L113.69 456.46L115.16 456.12L116.61 455.74L118.05 455.33L119.49 454.88L120.91 454.39L122.32 453.86L123.71 453.30L125.09 452.70L126.45 452.06L127.79 451.39L129.12 450.69L130.43 449.95L131.72 449.18L132.99 448.38L134.25 447.56L135.48 446.70L136.70 445.82L137.90 444.91L139.07 443.98L140.23 443.02L141.37 442.04L142.50 441.04L143.60 440.02L144.69 438.99L145.76 437.93L146.81 436.86L147.85 435.78L148.88 434.68L149.88 433.56L150.88 432.44L151.86 431.30L152.83 430.15L153.79 428.99L154.73 427.82L155.67 426.65L156.59 425.46L157.51 424.27L158.41 423.07L159.31 421.87L160.21 420.66L161.09 419.45L161.97 418.23L162.84 417.00L163.71 415.78L164.58 414.55L165.44 413.32L166.30 412.09L167.16 410.85L168.02 409.62L168.87 408.38L169.73 407.15L170.58 405.91L171.44 404.68L172.29 403.44L173.13 402.20L173.98 400.96L174.82 399.71L175.66 398.47L176.50 397.22L177.33 395.96L178.16 394.71L178.98 393.45L179.80 392.19L180.61 390.93L181.41 389.66L182.21 388.39L183.00 387.11L183.79 385.83L184.57 384.54L185.34 383.25L186.10 381.95L186.85 380.65L187.59 379.35L188.32 378.04L189.05 376.72L189.76 375.40L190.47 374.07L191.17 372.74L191.87 371.41L192.55 370.07L193.23 368.73L193.91 367.39L194.58 366.05L195.24 364.70L195.91 363.35L196.56 362.00L197.22 360.65L197.87 359.29L198.52 357.94L199.17 356.58L199.82 355.23L200.47 353.87L201.12 352.52L201.77 351.16L202.42 349.81L203.08 348.46L203.73 347.10L204.39 345.75L205.04 344.40L205.70 343.05L206.36 341.70L207.03 340.35L207.69 339.00L208.36 337.66L209.02 336.31L209.69 334.96L210.36 333.62L211.03 332.27L211.70 330.93L212.38 329.59L213.05 328.24L213.73 326.90L214.40 325.56L215.08 324.22L215.76 322.88L216.44 321.54L217.12 320.20L217.81 318.86L218.49 317.52L219.18 316.19L219.86 314.85L220.55 313.51L221.24 312.18L221.93 310.84L222.62 309.51L223.31 308.17L224.00 306.84L224.69 305.50L225.38 304.17L226.08 302.84L226.77 301.51L227.47 300.17L228.17 298.84L228.86 297.51L229.56 296.18L230.26 294.85L230.96 293.52L231.66 292.19L232.36 290.86L233.06 289.53L233.76 288.20L234.46 286.87L235.16 285.54L235.87 284.22L236.57 282.89L237.27 281.56L237.98 280.23L238.68 278.91L239.38 277.58L240.09 276.25L240.79 274.92L241.50 273.60L242.20 272.27L242.91 270.94L243.62 269.62L244.32 268.29L245.03 266.96L245.73 265.64L246.44 264.31L247.15 262.98L247.85 261.66L248.56 260.33L249.26 259.00L249.97 257.68L250.68 256.35L251.38 255.03L252.09 253.70L252.79 252.37L253.50 251.04L254.20 249.72L254.91 248.39L255.61 247.06L256.32 245.74L257.02 244.41L257.72 243.08L258.43 241.75L259.13 240.42L259.83 239.10L260.53 237.77L261.23 236.44L261.94 235.11L262.64 233.78L263.34 232.45L264.03 231.12L264.73 229.79L265.43 228.46L266.13 227.13L266.82 225.80L267.52 224.46L268.22 223.13L268.91 221.80L269.60 220.47L270.30 219.13L270.99 217.80L271.68 216.46L272.37 215.13L273.06 213.80L273.75 212.46L274.44 211.13L275.13 209.79L275.82 208.46L276.51 207.12L277.20 205.78L277.89 204.45L278.57 203.11L279.26 201.78L279.95 200.44L280.64 199.10L281.32 197.77L282.01 196.43L282.70 195.10L283.39 193.76L284.08 192.42L284.77 191.09L285.45 189.75L286.14 188.42L286.83 187.08L287.52 185.75L288.21 184.41L288.90 183.08L289.59 181.74L290.29 180.41L290.98 179.08L291.67 177.74L292.37 176.41L293.06 175.08L293.76 173.75L294.45 172.41L295.15 171.08L295.85 169.75L296.55 168.42L297.25 167.09L297.95 165.76L298.65 164.43L299.35 163.11L300.06 161.78L300.76 160.45L301.47 159.13L302.18 157.80L302.89 156.48L303.60 155.15L304.31 153.83L305.02 152.51L305.74 151.19L306.46 149.87L307.18 148.55L307.90 147.23L308.62 145.91L309.34 144.59L310.07 143.28L310.79 141.96L311.52 140.65L312.25 139.33L312.99 138.02L313.72 136.71L314.46 135.40L315.20 134.09L315.94 132.79L316.68 131.48L317.43 130.18L318.17 128.87L318.92 127.57L319.68 126.27L320.43 124.97L321.19 123.67L321.95 122.37L322.71 121.08L323.47 119.79L324.24 118.49L325.01 117.20L325.78 115.91L326.56 114.63L327.33 113.34L328.11 112.06L328.90 110.77L329.68 109.49L330.47 108.21L331.26 106.93L332.05 105.66L332.85 104.39L333.65 103.11L334.46 101.84L335.26 100.58L336.07 99.31L336.88 98.04L337.70 96.78L338.52 95.52L339.35 94.27L340.18 93.02L341.02 91.77L341.87 90.54L342.73 89.30L343.61 88.08L344.49 86.87L345.39 85.66L346.30 84.47L347.23 83.28L348.17 82.12L349.13 80.96L350.11 79.82L351.11 78.70L352.13 77.60L353.18 76.51L354.24 75.45L355.32 74.41L356.43 73.40L357.56 72.41L358.72 71.45L359.90 70.52L361.10 69.61L362.33 68.75L363.60 67.95L364.92 67.23L366.29 66.62L367.67 66.03L369.01 65.35L370.24 64.49L371.31 63.44L372.27 62.28L373.17 61.07L374.07 59.87L375.01 58.70L376.07 57.64L377.34 56.83L378.78 56.45L380.28 56.53L381.71 56.97L383.05 57.64L384.31 58.46L385.51 59.36L386.66 60.33L387.79 61.33L388.89 62.35L389.96 63.40L391.01 64.48L392.03 65.58L393.03 66.70L394.01 67.84L394.96 69.01L395.88 70.19L396.78 71.40L397.66 72.62L398.51 73.85L399.34 75.11L400.14 76.38L400.92 77.66L401.69 78.96L402.43 80.26L403.15 81.58L403.85 82.91L404.53 84.25L405.20 85.60L405.84 86.95L406.47 88.32L407.09 89.69L407.69 91.06L408.28 92.45L408.85 93.84L409.42 95.23L409.97 96.63L410.51 98.03L411.04 99.43L411.56 100.84L412.08 102.25L412.59 103.67L413.09 105.09L413.58 106.50L414.07 107.92L414.56 109.35L415.04 110.77L415.53 112.19L416.00 113.62L416.48 115.04L416.95 116.47L417.42 117.90L417.89 119.32L418.35 120.75L418.81 122.18L419.27 123.61L419.73 125.05L420.18 126.48L420.63 127.91L421.08 129.35L421.53 130.78L421.97 132.22L422.41 133.65L422.85 135.09L423.28 136.53L423.72 137.97L424.15 139.41L424.58 140.85L425.00 142.29L425.43 143.73L425.85 145.17L426.27 146.62L426.68 148.06L427.10 149.50L427.51 150.95L427.92 152.39L428.33 153.84L428.74 155.29L429.14 156.73L429.54 158.18L429.95 159.63L430.34 161.08L430.74 162.53L431.14 163.98L431.53 165.43L431.92 166.88L432.31 168.33L432.70 169.78L433.08 171.24L433.47 172.69L433.85 174.14L434.23 175.59L434.61 177.05L434.99 178.50L435.36 179.96L435.74 181.41L436.11 182.87L436.48 184.32L436.85 185.78L437.22 187.24L437.59 188.69L437.96 190.15L438.32 191.61L438.68 193.07L439.05 194.53L439.41 195.98L439.77 197.44L440.13 198.90L440.49 200.36L440.84 201.82L441.20 203.28L441.55 204.74L441.91 206.20L442.26 207.66L442.61 209.12L442.96 210.58L443.31 212.05L443.66 213.51L444.01 214.97L444.36 216.43L444.71 217.89L445.05 219.35L445.40 220.82L445.75 222.28L446.09 223.74L446.43 225.20L446.78 226.67L447.12 228.13L447.46 229.59L447.81 231.06L448.15 232.52L448.49 233.98L448.83 235.45L449.17 236.91L449.51 238.37L449.85 239.84L450.19 241.30L450.53 242.76L450.87 244.23L451.21 245.69L451.55 247.16L451.89 248.62L452.23 250.08L452.57 251.55L452.91 253.01L453.25 254.47L453.60 255.94L453.94 257.40L454.28 258.86L454.62 260.33L454.96 261.79L455.30 263.26L455.64 264.72L455.98 266.18L456.33 267.64L456.67 269.11L457.01 270.57L457.36 272.03L457.70 273.50L458.04 274.96L458.39 276.42L458.73 277.88L459.08 279.35L459.43 280.81L459.77 282.27L460.12 283.73L460.47 285.19L460.82 286.66L461.16 288.12L461.51 289.58L461.86 291.04L462.21 292.50L462.56 293.96L462.92 295.42L463.27 296.89L463.62 298.35L463.97 299.81L464.33 301.27L464.68 302.73L465.04 304.19L465.39 305.65L465.75 307.11L466.11 308.57L466.47 310.03L466.83 311.48L467.18 312.94L467.55 314.40L467.91 315.86L468.27 317.32L468.63 318.78L468.99 320.24L469.36 321.69L469.72 323.15L470.09 324.61L470.46 326.07L470.83 327.52L471.19 328.98L471.56 330.44L471.93 331.89L472.31 333.35L472.68 334.80L473.05 336.26L473.43 337.71L473.80 339.17L474.18 340.62L474.56 342.08L474.93 343.53L475.31 344.99L475.69 346.44L476.08 347.89L476.46 349.35L476.84 350.80L477.23 352.25L477.61 353.70L478.00 355.16L478.39 356.61L478.78 358.06L479.17 359.51L479.56 360.96L479.96 362.41L480.35 363.86L480.74 365.31L481.14 366.76L481.54 368.21L481.94 369.66L482.34 371.11L482.74 372.55L483.14 374.00L483.55 375.45L483.95 376.90L484.36 378.34L484.77 379.79L485.18 381.23L485.59 382.68L486.00 384.12L486.42 385.57L486.83 387.01L487.25 388.46L487.67 389.90L488.09 391.34L488.51 392.79L488.93 394.23L489.36 395.67L489.78 397.11L490.21 398.55L490.64 399.99L491.07 401.43L491.50 402.87L491.94 404.31L492.37 405.75L492.81 407.18L493.25 408.62L493.69 410.06L494.13 411.49L494.58 412.93L495.04 414.36L495.50 415.79L495.96 417.22L496.43 418.65L496.91 420.07L497.39 421.49L497.89 422.91L498.39 424.33L498.90 425.74L499.42 427.15L499.95 428.56L500.49 429.96L501.04 431.36L501.61 432.75L502.18 434.14L502.77 435.52L503.37 436.90L503.99 438.27L504.62 439.63L505.27 440.99L505.93 442.34L506.60 443.68L507.29 445.01L508.00 446.34L508.72 447.66L509.46 448.97L510.22 450.27L510.99 451.55L511.78 452.83L512.59 454.10L513.41 455.36L514.26 456.60L515.12 457.83L516.00 459.05L516.90 460.25L517.82 461.44L518.75 462.62L519.71 463.77L520.69 464.92L521.68 466.04L522.70 467.15L523.74 468.23L524.80 469.30L525.88 470.34L526.98 471.37L528.10 472.37L529.24 473.35L530.40 474.30L531.58 475.23L532.78 476.13L534.00 477.01L535.24 477.86L536.49 478.69L537.76 479.50L539.05 480.28L540.34 481.04L541.66 481.77L542.98 482.48L544.32 483.16L545.67 483.83L547.03 484.47L548.40 485.08L549.78 485.68L551.17 486.25L552.56 486.80L553.97 487.33L555.38 487.83L556.81 488.32L558.24 488.79L559.67 489.23L561.11 489.65L562.56 490.06L564.01 490.44L565.47 490.80L566.93 491.14L568.40 491.47L569.87 491.77L571.35 492.06L572.83 492.33L574.31 492.58L575.79 492.81L577.28 493.03L578.77 493.24L580.26 493.43L581.75 493.60L583.24 493.77L584.74 493.92L586.24 494.06L587.73 494.19L589.23 494.32L590.73 494.43L592.23 494.53L593.73 494.63L595.23 494.72L596.73 494.81L598.23 494.89L599.73 494.97L601.23 495.04L602.73 495.11L604.23 495.18L605.73 495.25L607.23 495.31L608.74 495.38L610.24 495.44L611.74 495.50L613.24 495.55L614.74 495.61L616.24 495.66L617.74 495.72L619.25 495.77L620.75 495.81L622.25 495.86L623.75 495.91L625.25 495.95L626.76 495.99L628.26 496.04L629.76 496.08L631.26 496.11L632.77 496.15L634.27 496.19L635.77 496.22L637.27 496.25L638.77 496.29L640.28 496.32L641.78 496.34L643.28 496.37L644.78 496.40L646.29 496.43L647.79 496.45L649.29 496.47L650.79 496.50L652.30 496.52L653.80 496.54L655.30 496.56L656.80 496.58L658.31 496.59L659.81 496.61L661.31 496.63L662.81 496.64L664.32 496.66L665.82 496.67L667.32 496.68L668.82 496.70L670.33 496.71L671.83 496.72L673.33 496.73L674.84 496.74L676.34 496.75L677.84 496.76L679.34 496.77L680.85 496.78L682.35 496.78L683.85 496.79L685.35 496.80L686.86 496.81L688.36 496.81L689.86 496.82L691.36 496.83L692.87 496.83L694.37 496.84L695.87 496.84L697.37 496.85L698.88 496.85L700.38 496.86L701.88 496.87L703.39 496.87L704.89 496.88L706.39 496.88L707.89 496.89L709.40 496.90L710.90 496.90L712.40 496.91L713.90 496.91L715.41 496.92L716.91 496.93L718.41 496.94L719.91 496.94L721.42 496.95L722.92 496.96L724.42 496.97L725.93 496.98L727.43 496.99L728.93 497.00L730.43 497.01L731.94 497.03L733.44 497.04L734.94 497.05L736.44 497.07L737.95 497.08L739.45 497.10L740.95 497.11L742.45 497.13L743.96 497.15L745.46 497.17L746.96 497.19L748.46 497.21L749.97 497.23L751.47 497.25L752.97 497.28L754.47 497.30L755.98 497.33L757.48 497.36L758.98 497.39L760.48 497.41L761.99 497.45L763.49 497.48L764.99 497.51L766.49 497.55L768.00 497.58L769.50 497.62L771.00 497.66" fill="none" stroke="#249a72" stroke-width="6.75" stroke-linejoin="round" stroke-linecap="butt"/>
<path d="M219.46 360.15L220.45 359.02L221.42 357.87L222.37 356.70L223.30 355.52L224.20 354.32L225.09 353.11L225.96 351.88L226.80 350.64L227.62 349.38L228.43 348.11L229.21 346.83L229.98 345.54L230.72 344.23L231.45 342.91L232.15 341.59L232.84 340.25L233.51 338.91L234.16 337.55L234.80 336.19L235.42 334.82L236.02 333.44L236.61 332.06L237.18 330.67L237.73 329.28L238.28 327.87L238.81 326.47L239.33 325.06L239.83 323.64L240.33 322.22L240.81 320.80L241.29 319.37L241.75 317.95L242.21 316.51L242.65 315.08L243.09 313.64L243.53 312.20L243.95 310.76L244.37 309.32L244.79 307.87L245.20 306.43L245.61 304.98L246.01 303.53L246.41 302.09L246.81 300.64L247.21 299.19L247.60 297.74L248.00 296.29L248.39 294.84L248.78 293.39L249.17 291.94L249.56 290.48L249.95 289.03L250.34 287.58L250.73 286.13L251.11 284.68L251.50 283.22L251.88 281.77L252.26 280.32L252.65 278.86L253.03 277.41L253.41 275.95L253.78 274.50L254.16 273.05L254.54 271.59L254.91 270.13L255.28 268.68L255.66 267.22L256.03 265.77L256.40 264.31L256.77 262.85L257.13 261.40L257.50 259.94L257.87 258.48L258.23 257.02L258.60 255.56L258.96 254.11L259.32 252.65L259.68 251.19L260.04 249.73L260.40 248.27L260.75 246.81L261.11 245.35L261.47 243.89L261.82 242.43L262.17 240.97L262.53 239.51L262.88 238.05L263.23 236.58L263.57 235.12L263.92 233.66L264.27 232.20L264.61 230.74L264.96 229.27L265.30 227.81L265.65 226.35L265.99 224.88L266.33 223.42L266.67 221.96L267.01 220.49L267.35 219.03L267.68 217.56L268.02 216.10L268.36 214.63L268.69 213.17L269.03 211.70L269.36 210.24L269.69 208.77L270.03 207.31L270.36 205.84L270.69 204.38L271.02 202.91L271.36 201.44L271.69 199.98L272.02 198.51L272.35 197.05L272.68 195.58L273.01 194.11L273.34 192.65L273.67 191.18L274.00 189.72L274.33 188.25L274.66 186.78L274.99 185.32L275.32 183.85L275.65 182.39L275.98 180.92L276.31 179.45L276.64 177.99L276.97 176.52L277.30 175.06L277.63 173.59L277.97 172.12L278.30 170.66L278.63 169.19L278.96 167.73L279.30 166.26L279.63 164.80L279.97 163.33L280.30 161.87L280.64 160.40L280.98 158.94L281.31 157.47L281.65 156.01L281.99 154.54L282.33 153.08L282.67 151.62L283.01 150.15L283.36 148.69L283.70 147.23L284.05 145.76L284.39 144.30L284.74 142.84L285.09 141.38L285.43 139.92L285.79 138.45L286.14 136.99L286.49 135.53L286.84 134.07L287.20 132.61L287.56 131.15L287.91 129.69L288.27 128.23L288.63 126.77L289.00 125.32L289.36 123.86L289.73 122.40L290.09 120.94L290.46 119.49L290.83 118.03L291.21 116.57L291.58 115.12L291.95 113.66L292.33 112.21L292.71 110.75L293.09 109.30L293.48 107.85L293.86 106.39L294.25 104.94L294.64 103.49L295.03 102.04L295.42 100.59L295.81 99.14L296.21 97.69L296.61 96.24L297.01 94.79L297.42 93.34L297.83 91.90L298.25 90.46L298.68 89.02L299.13 87.58L299.59 86.15L300.07 84.73L300.57 83.31L301.09 81.90L301.64 80.50L302.21 79.11L302.82 77.74L303.46 76.38L304.14 75.04L304.85 73.72L305.61 72.42L306.41 71.14L307.25 69.90L308.14 68.68L309.07 67.51L310.05 66.37L311.08 65.27L312.15 64.22L313.28 63.22L314.45 62.29L315.69 61.43L316.98 60.67L318.34 60.03L319.76 59.54L321.23 59.24L322.73 59.19L324.21 59.41L325.63 59.91L326.96 60.61L328.19 61.47L329.35 62.43L330.44 63.46L331.47 64.55L332.46 65.68L333.41 66.85L334.32 68.04L335.20 69.26L336.04 70.50L336.85 71.77L337.63 73.06L338.38 74.36L339.10 75.68L339.79 77.01L340.46 78.36L341.10 79.72L341.72 81.08L342.33 82.46L342.91 83.85L343.48 85.24L344.03 86.63L344.58 88.04L345.11 89.44L345.63 90.85L346.14 92.26L346.65 93.68L347.16 95.09L347.66 96.51L348.16 97.93L348.65 99.35L349.14 100.77L349.63 102.19L350.11 103.61L350.58 105.04L351.06 106.47L351.52 107.89L351.99 109.32L352.45 110.75L352.90 112.19L353.35 113.62L353.79 115.06L354.22 116.50L354.66 117.94L355.08 119.38L355.50 120.82L355.91 122.27L356.32 123.71L356.73 125.16L357.13 126.61L357.52 128.06L357.91 129.51L358.29 130.96L358.67 132.42L359.05 133.87L359.42 135.33L359.78 136.79L360.15 138.25L360.50 139.70L360.86 141.17L361.21 142.63L361.56 144.09L361.90 145.55L362.24 147.02L362.58 148.48L362.91 149.95L363.25 151.41L363.57 152.88L363.90 154.34L364.22 155.81L364.54 157.28L364.86 158.75L365.18 160.22L365.49 161.69L365.80 163.16L366.11 164.63L366.42 166.10L366.73 167.57L367.03 169.04L367.33 170.52L367.63 171.99L367.93 173.46L368.23 174.93L368.53 176.41L368.83 177.88L369.13 179.35L369.42 180.83L369.72 182.30L370.01 183.77L370.30 185.25L370.60 186.72L370.89 188.19L371.19 189.67L371.48 191.14L371.77 192.62L372.07 194.09L372.36 195.56L372.66 197.04L372.95 198.51L373.25 199.98L373.55 201.46L373.84 202.93L374.14 204.40L374.43 205.88L374.73 207.35L375.03 208.82L375.33 210.30L375.62 211.77L375.92 213.24L376.22 214.72L376.51 216.19L376.81 217.66L377.11 219.14L377.41 220.61L377.70 222.08L378.00 223.56L378.30 225.03L378.60 226.50L378.89 227.98L379.19 229.45L379.49 230.92L379.78 232.40L380.08 233.87L380.38 235.34L380.67 236.82L380.97 238.29L381.26 239.76L381.56 241.24L381.85 242.71L382.14 244.18L382.44 245.66L382.73 247.13L383.02 248.61L383.32 250.08L383.61 251.55L383.90 253.03L384.19 254.50L384.48 255.98L384.77 257.45L385.06 258.93L385.35 260.40L385.64 261.88L385.92 263.35L386.21 264.83L386.49 266.30L386.78 267.78L387.06 269.25L387.35 270.73L387.63 272.21L387.91 273.68L388.20 275.16L388.48 276.63L388.76 278.11L389.04 279.59L389.32 281.06L389.60 282.54L389.88 284.02L390.16 285.49L390.43 286.97L390.71 288.45L390.99 289.92L391.27 291.40L391.54 292.88L391.82 294.36L392.10 295.83L392.37 297.31L392.65 298.79L392.92 300.26L393.20 301.74L393.47 303.22L393.75 304.70L394.02 306.17L394.30 307.65L394.57 309.13L394.85 310.61L395.12 312.09L395.40 313.56L395.67 315.04L395.94 316.52L396.22 318.00L396.49 319.47L396.77 320.95L397.04 322.43L397.31 323.91L397.59 325.38L397.86 326.86L398.14 328.34L398.41 329.82L398.69 331.29L398.96 332.77L399.24 334.25L399.51 335.73L399.79 337.20L400.06 338.68L400.34 340.16L400.62 341.64L400.89 343.11L401.17 344.59L401.45 346.07L401.72 347.54L402.00 349.02L402.28 350.50L402.56 351.97L402.84 353.45L403.12 354.93L403.40 356.40L403.68 357.88L403.96 359.36L404.24 360.83L404.52 362.31L404.81 363.79L405.09 365.26L405.37 366.74L405.66 368.21L405.94 369.69L406.23 371.16L406.52 372.64L406.80 374.11L407.09 375.59L407.38 377.06L407.67 378.54L407.96 380.01L408.25 381.49L408.54 382.96L408.83 384.44L409.13 385.91L409.42 387.38L409.72 388.86L410.01 390.33L410.31 391.80L410.61 393.28L410.90 394.75L411.20 396.22L411.51 397.70L411.81 399.17L412.11 400.64L412.41 402.11L412.72 403.58L413.02 405.05L413.33 406.53L413.64 408.00L413.95 409.47L414.26 410.94L414.57 412.41L414.88 413.88L415.20 415.35L415.51 416.82L415.83 418.29L416.15 419.76L416.47 421.22L416.79 422.69L417.11 424.16L417.44 425.63L417.76 427.09L418.09 428.56L418.43 430.03L418.76 431.49L419.10 432.95L419.44 434.42L419.78 435.88L420.13 437.34L420.48 438.81L420.83 440.27L421.18 441.73L421.54 443.19L421.91 444.65L422.27 446.10L422.64 447.56L423.02 449.01L423.39 450.47L423.78 451.92L424.16 453.37L424.55 454.83L424.95 456.28L425.35 457.72L425.76 459.17L426.17 460.62L426.58 462.06L427.00 463.50L427.43 464.95L427.86 466.39L428.29 467.82L428.73 469.26L429.18 470.70L429.63 472.13L430.09 473.56L430.56 474.99L431.03 476.42L431.51 477.84L431.99 479.26L432.48 480.68L432.97 482.10L433.48 483.52L433.99 484.93L434.50 486.35L435.02 487.75L435.55 489.16L436.09 490.56L436.64 491.96L437.20 493.36L437.77 494.75L438.35 496.13L438.96 497.51L439.58 498.88L440.22 500.24L440.88 501.59L441.57 502.92L442.29 504.24L443.03 505.55L443.80 506.84L444.60 508.12L445.43 509.37L446.29 510.60L447.19 511.80L448.13 512.98L449.10 514.12L450.11 515.24L451.15 516.31L452.25 517.35L453.38 518.33L454.57 519.26L455.80 520.11L457.09 520.89L458.42 521.57L459.81 522.15L461.24 522.60L462.71 522.92L464.20 523.09L465.71 523.13L467.21 523.06L468.70 522.88L470.18 522.61L471.64 522.26L473.08 521.85L474.51 521.37L475.92 520.84L477.30 520.27L478.68 519.66L480.04 519.02L481.38 518.35L482.72 517.66L484.05 516.95L485.37 516.24L486.69 515.52L488.01 514.80L489.33 514.08L490.65 513.37L491.98 512.67L493.32 511.98L494.66 511.30L496.00 510.64L497.36 509.99L498.72 509.36L500.09 508.74L501.47 508.15L502.86 507.57L504.26 507.03L505.67 506.50L507.09 506.01L508.52 505.54L509.96 505.10L511.40 504.69L512.85 504.30L514.31 503.94L515.78 503.60L517.25 503.28L518.72 502.99L520.20 502.72L521.68 502.46L523.16 502.22L524.65 502.00L526.14 501.79L527.63 501.60L529.12 501.42L530.61 501.25L532.11 501.10L533.60 500.95L535.10 500.81L536.60 500.68L538.09 500.55L539.59 500.43L541.09 500.32L542.59 500.21L544.09 500.10L545.59 500.01L547.09 499.91L548.59 499.83L550.09 499.75L551.59 499.67L553.09 499.60L554.59 499.53L556.09 499.47L557.60 499.41L559.10 499.36L560.60 499.31L562.10 499.26L563.60 499.22L565.11 499.18L566.61 499.14L568.11 499.11L569.61 499.08L571.12 499.06L572.62 499.04L574.12 499.02L575.62 499.00L577.13 498.99L578.63 498.97L580.13 498.96L581.64 498.96L583.14 498.95L584.64 498.95L586.14 498.94L587.65 498.94L589.15 498.94L590.65 498.95L592.16 498.95L593.66 498.95L595.16 498.96L596.66 498.96L598.17 498.97L599.67 498.97L601.17 498.98L602.68 498.98L604.18 498.99L605.68 498.99L607.18 499.00L608.69 499.00L610.19 499.01L611.69 499.01L613.20 499.01L614.70 499.02L616.20 499.02L617.70 499.02L619.21 499.03L620.71 499.03L622.21 499.03L623.72 499.03L625.22 499.04L626.72 499.04L628.22 499.04L629.73 499.04L631.23 499.04L632.73 499.04L634.24 499.04L635.74 499.05L637.24 499.05L638.74 499.05L640.25 499.05L641.75 499.05L643.25 499.05L644.76 499.05L646.26 499.05L647.76 499.05L649.26 499.04L650.77 499.04L652.27 499.04L653.77 499.04L655.28 499.04L656.78 499.04L658.28 499.04L659.78 499.04L661.29 499.04L662.79 499.03L664.29 499.03L665.80 499.03L667.30 499.03L668.80 499.03L670.30 499.03L671.81 499.02L673.31 499.02L674.81 499.02L676.32 499.02L677.82 499.02L679.32 499.01L680.82 499.01L682.33 499.01L683.83 499.01L685.33 499.01L686.84 499.00L688.34 499.00L689.84 499.00L691.34 499.00L692.85 499.00L694.35 498.99L695.85 498.99L697.35 498.99L698.86 498.99L700.36 498.99L701.86 498.98L703.37 498.98L704.87 498.98L706.37 498.98L707.87 498.98L709.38 498.98L710.88 498.97L712.38 498.97L713.89 498.97L715.39 498.97L716.89 498.97L718.39 498.97L719.90 498.97L721.40 498.97L722.90 498.97L724.41 498.97L725.91 498.97L727.41 498.97L728.91 498.97L730.42 498.97L731.92 498.97L733.42 498.97L734.93 498.97L736.43 498.97L737.93 498.97L739.43 498.97L740.94 498.97L742.44 498.97L743.94 498.98L745.45 498.98L746.95 498.98L748.45 498.98L749.95 498.99L751.46 498.99L752.96 498.99L754.46 499.00L755.97 499.00L757.47 499.00L758.97 499.01L760.47 499.01L761.98 499.02L763.48 499.02L764.98 499.03L766.49 499.03L767.99 499.04L769.49 499.04L770.99 499.05" fill="none" stroke="#b53cff" stroke-width="6.75" stroke-linejoin="round" stroke-linecap="butt"/>
<circle cx="219.40" cy="360.00" r="3.375" fill="#b53cff"/>
<path d="M118.72 1112.98L120.05 1113.67L121.40 1114.34L122.76 1114.97L124.14 1115.57L125.53 1116.13L126.94 1116.66L128.36 1117.16L129.78 1117.62L131.22 1118.05L132.67 1118.45L134.13 1118.82L135.60 1119.15L137.07 1119.45L138.55 1119.71L140.03 1119.94L141.52 1120.15L143.01 1120.32L144.51 1120.45L146.01 1120.56L147.51 1120.64L149.01 1120.69L150.51 1120.70L152.01 1120.69L153.52 1120.65L155.02 1120.58L156.52 1120.49L158.01 1120.37L159.51 1120.22L161.00 1120.05L162.49 1119.85L163.98 1119.63L165.46 1119.38L166.94 1119.11L168.41 1118.82L169.88 1118.51L171.35 1118.18L172.81 1117.83L174.26 1117.45L175.71 1117.06L177.16 1116.65L178.60 1116.23L180.03 1115.78L181.46 1115.32L182.89 1114.84L184.31 1114.35L185.72 1113.84L187.13 1113.31L188.53 1112.77L189.92 1112.21L191.31 1111.63L192.69 1111.04L194.06 1110.42L195.42 1109.79L196.78 1109.14L198.12 1108.46L199.45 1107.77L200.78 1107.06L202.09 1106.32L203.38 1105.56L204.67 1104.78L205.94 1103.98L207.19 1103.16L208.43 1102.31L209.66 1101.44L210.86 1100.54L212.05 1099.62L213.22 1098.68L214.37 1097.71L215.50 1096.72L216.61 1095.71L217.71 1094.68L218.78 1093.63L219.85 1092.57L220.89 1091.49L221.92 1090.39L222.93 1089.29L223.93 1088.16L224.92 1087.03L225.89 1085.88L226.85 1084.73L227.80 1083.56L228.73 1082.39L229.66 1081.21L230.58 1080.02L231.49 1078.82L232.39 1077.62L233.28 1076.41L234.17 1075.20L235.04 1073.98L235.91 1072.75L236.78 1071.52L237.63 1070.29L238.48 1069.05L239.32 1067.80L240.15 1066.55L240.98 1065.30L241.80 1064.04L242.62 1062.77L243.42 1061.51L244.22 1060.24L245.02 1058.96L245.81 1057.68L246.59 1056.40L247.37 1055.11L248.14 1053.83L248.91 1052.53L249.67 1051.24L250.43 1049.94L251.18 1048.64L251.93 1047.34L252.67 1046.03L253.41 1044.72L254.14 1043.41L254.87 1042.10L255.60 1040.78L256.32 1039.47L257.04 1038.15L257.76 1036.83L258.47 1035.51L259.18 1034.18L259.89 1032.86L260.60 1031.53L261.30 1030.20L262.00 1028.87L262.70 1027.54L263.40 1026.21L264.09 1024.88L264.78 1023.55L265.48 1022.21L266.17 1020.88L266.86 1019.54L267.54 1018.21L268.23 1016.87L268.92 1015.54L269.61 1014.20L270.30 1012.87L270.98 1011.53L271.67 1010.19L272.36 1008.86L273.04 1007.52L273.73 1006.19L274.42 1004.85L275.11 1003.51L275.79 1002.18L276.48 1000.84L277.17 999.51L277.86 998.17L278.54 996.83L279.23 995.50L279.92 994.16L280.60 992.82L281.29 991.49L281.97 990.15L282.66 988.81L283.35 987.48L284.03 986.14L284.72 984.80L285.40 983.46L286.08 982.13L286.77 980.79L287.45 979.45L288.14 978.11L288.82 976.77L289.50 975.44L290.18 974.10L290.86 972.76L291.54 971.42L292.22 970.08L292.90 968.74L293.58 967.40L294.26 966.06L294.94 964.72L295.62 963.38L296.29 962.03L296.97 960.69L297.64 959.35L298.32 958.01L298.99 956.66L299.66 955.32L300.34 953.98L301.01 952.63L301.68 951.29L302.35 949.94L303.02 948.60L303.68 947.25L304.35 945.91L305.02 944.56L305.68 943.21L306.35 941.87L307.01 940.52L307.68 939.17L308.34 937.82L309.01 936.48L309.67 935.13L310.34 933.78L311.00 932.43L311.67 931.09L312.33 929.74L313.00 928.39L313.67 927.05L314.33 925.70L315.00 924.35L315.67 923.01L316.34 921.66L317.01 920.32L317.68 918.97L318.35 917.63L319.02 916.29L319.69 914.94L320.37 913.60L321.04 912.26L321.72 910.92L322.40 909.58L323.08 908.24L323.76 906.90L324.45 905.56L325.13 904.22L325.82 902.89L326.51 901.55L327.20 900.22L327.89 898.89L328.59 897.55L329.29 896.22L329.99 894.89L330.69 893.57L331.39 892.24L332.10 890.91L332.81 889.59L333.52 888.27L334.24 886.95L334.96 885.63L335.68 884.31L336.40 882.99L337.13 881.68L337.86 880.36L338.59 879.05L339.33 877.74L340.07 876.44L340.82 875.13L341.56 873.83L342.31 872.53L343.07 871.23L343.83 869.93L344.59 868.64L345.36 867.34L346.13 866.05L346.90 864.77L347.68 863.48L348.46 862.20L349.25 860.92L350.04 859.64L350.83 858.37L351.63 857.09L352.44 855.83L353.25 854.56L354.06 853.30L354.88 852.04L355.71 850.78L356.53 849.53L357.37 848.28L358.21 847.03L359.05 845.79L359.90 844.55L360.75 843.31L361.61 842.08L362.48 840.85L363.35 839.62L364.22 838.40L365.10 837.19L365.99 835.97L366.88 834.76L367.78 833.56L368.68 832.36L369.59 831.16L370.51 829.97L371.43 828.78L372.35 827.60L373.29 826.42L374.23 825.25L375.17 824.08L376.12 822.92L377.08 821.76L378.04 820.61L379.01 819.46L379.99 818.32L380.97 817.18L381.96 816.05L382.96 814.93L383.96 813.81L384.97 812.70L385.98 811.59L387.01 810.49L388.04 809.39L389.07 808.30L390.12 807.22L391.17 806.15L392.22 805.08L393.29 804.02L394.36 802.97L395.43 801.92L396.52 800.88L397.61 799.85L398.71 798.82L399.81 797.80L400.93 796.80L402.06 795.80L403.19 794.82L404.34 793.86L405.51 792.91L406.69 791.97L407.88 791.06L409.10 790.18L410.33 789.31L411.58 788.48L412.85 787.68L414.14 786.91L415.45 786.18L416.78 785.49L418.14 784.84L419.52 784.24L420.92 783.69L422.33 783.20L423.77 782.77L425.23 782.40L426.70 782.10L428.18 781.86L429.68 781.68L431.17 781.57L432.68 781.52L434.18 781.52L435.68 781.58L437.18 781.70L438.67 781.87L440.16 782.10L441.63 782.38L443.10 782.70L444.55 783.08L445.99 783.50L447.42 783.98L448.83 784.50L450.22 785.06L451.59 785.67L452.95 786.33L454.28 787.02L455.59 787.76L456.88 788.53L458.14 789.34L459.39 790.18L460.61 791.06L461.81 791.96L462.99 792.89L464.15 793.85L465.28 794.83L466.40 795.84L467.50 796.86L468.57 797.91L469.63 798.97L470.67 800.06L471.70 801.16L472.70 802.27L473.69 803.40L474.67 804.55L475.63 805.70L476.57 806.87L477.50 808.05L478.42 809.24L479.33 810.44L480.22 811.65L481.10 812.87L481.97 814.09L482.82 815.33L483.67 816.57L484.51 817.82L485.33 819.07L486.15 820.33L486.96 821.60L487.76 822.87L488.55 824.15L489.34 825.43L490.12 826.71L490.89 828.00L491.66 829.29L492.43 830.58L493.19 831.88L493.95 833.17L494.70 834.47L495.46 835.77L496.21 837.07L496.97 838.37L497.72 839.67L498.47 840.97L499.23 842.27L499.98 843.57L500.74 844.87L501.49 846.17L502.24 847.47L502.99 848.77L503.74 850.07L504.49 851.37L505.24 852.68L505.98 853.99L506.72 855.29L507.45 856.60L508.19 857.92L508.91 859.23L509.64 860.55L510.36 861.86L511.07 863.19L511.78 864.51L512.49 865.84L513.18 867.17L513.87 868.50L514.56 869.84L515.24 871.18L515.91 872.53L516.57 873.87L517.23 875.22L517.89 876.58L518.53 877.93L519.18 879.29L519.81 880.65L520.45 882.01L521.07 883.38L521.69 884.75L522.31 886.12L522.93 887.49L523.53 888.86L524.14 890.24L524.74 891.61L525.34 892.99L525.93 894.37L526.52 895.75L527.11 897.14L527.69 898.52L528.28 899.91L528.86 901.29L529.43 902.68L530.01 904.07L530.58 905.46L531.15 906.85L531.72 908.24L532.29 909.63L532.86 911.02L533.43 912.41L533.99 913.80L534.56 915.19L535.12 916.58L535.69 917.98L536.25 919.37L536.82 920.76L537.38 922.15L537.95 923.55L538.51 924.94L539.08 926.33L539.65 927.72L540.22 929.11L540.79 930.50L541.36 931.89L541.94 933.28L542.51 934.66L543.09 936.05L543.67 937.44L544.26 938.82L544.84 940.21L545.42 941.59L546.01 942.97L546.60 944.35L547.19 945.74L547.78 947.12L548.37 948.50L548.97 949.88L549.56 951.26L550.16 952.64L550.76 954.01L551.36 955.39L551.96 956.77L552.56 958.15L553.17 959.52L553.77 960.90L554.38 962.27L554.98 963.65L555.59 965.02L556.20 966.39L556.81 967.77L557.42 969.14L558.03 970.51L558.65 971.88L559.26 973.25L559.87 974.63L560.49 976.00L561.11 977.37L561.72 978.74L562.34 980.11L562.96 981.48L563.57 982.85L564.19 984.22L564.81 985.58L565.43 986.95L566.05 988.32L566.67 989.69L567.30 991.06L567.92 992.42L568.54 993.79L569.16 995.16L569.78 996.53L570.41 997.89L571.03 999.26L571.65 1000.63L572.28 1002.00L572.90 1003.36L573.52 1004.73L574.14 1006.10L574.77 1007.47L575.39 1008.83L576.01 1010.20L576.64 1011.57L577.26 1012.93L577.88 1014.30L578.50 1015.67L579.13 1017.04L579.75 1018.40L580.37 1019.77L580.99 1021.14L581.61 1022.51L582.23 1023.88L582.85 1025.25L583.47 1026.62L584.09 1027.98L584.71 1029.35L585.32 1030.72L585.94 1032.09L586.56 1033.46L587.17 1034.83L587.79 1036.21L588.40 1037.58L589.01 1038.95L589.63 1040.32L590.24 1041.69L590.85 1043.07L591.46 1044.44L592.07 1045.81L592.67 1047.19L593.28 1048.56L593.88 1049.94L594.49 1051.31L595.09 1052.69L595.69 1054.07L596.29 1055.44L596.89 1056.82L597.49 1058.20L598.09 1059.58L598.68 1060.96L599.28 1062.34L599.87 1063.72L600.46 1065.10L601.06 1066.48L601.65 1067.86L602.24 1069.24L602.83 1070.62L603.42 1072.00L604.01 1073.38L604.60 1074.77L605.19 1076.15L605.78 1077.53L606.37 1078.91L606.96 1080.29L607.55 1081.67L608.15 1083.06L608.74 1084.44L609.33 1085.82L609.92 1087.20L610.52 1088.58L611.11 1089.96L611.71 1091.34L612.31 1092.72L612.90 1094.09L613.50 1095.47L614.10 1096.85L614.71 1098.22L615.31 1099.60L615.92 1100.98L616.52 1102.35L617.13 1103.72L617.74 1105.10L618.36 1106.47L618.97 1107.84L619.59 1109.21L620.21 1110.58L620.83 1111.95L621.45 1113.31L622.08 1114.68L622.71 1116.04L623.34 1117.40L623.98 1118.77L624.62 1120.13L625.26 1121.48L625.90 1122.84L626.55 1124.20L627.20 1125.55L627.85 1126.91L628.51 1128.26L629.17 1129.61L629.84 1130.95L630.50 1132.30L631.18 1133.64L631.85 1134.98L632.53 1136.32L633.22 1137.66L633.91 1139.00L634.60 1140.33L635.30 1141.66L636.00 1142.99L636.70 1144.31L637.41 1145.64L638.13 1146.96L638.85 1148.28L639.58 1149.59L640.31 1150.91L641.04 1152.22L641.78 1153.52L642.53 1154.83L643.28 1156.13L644.03 1157.43L644.80 1158.72L645.56 1160.02L646.34 1161.30L647.12 1162.59L647.90 1163.87L648.69 1165.15L649.49 1166.42L650.29 1167.69L651.10 1168.96L651.91 1170.22L652.73 1171.48L653.56 1172.74L654.39 1173.99L655.23 1175.23L656.08 1176.47L656.93 1177.71L657.79 1178.94L658.65 1180.17L659.52 1181.40L660.40 1182.61L661.29 1183.83L662.18 1185.04L663.08 1186.24L663.99 1187.44L664.90 1188.63L665.82 1189.82L666.75 1191.00L667.69 1192.17L668.64 1193.33L669.61 1194.49L670.58 1195.63L671.57 1196.76L672.58 1197.87L673.60 1198.98L674.64 1200.06L675.69 1201.13L676.77 1202.18L677.86 1203.21L678.97 1204.22L680.11 1205.21L681.25 1206.18L682.42 1207.13L683.60 1208.05L684.79 1208.97L686.00 1209.87L687.21 1210.75L688.44 1211.62L689.67 1212.48L690.91 1213.33L692.15 1214.18L693.40 1215.01L694.66 1215.83L695.92 1216.65L697.19 1217.45L698.47 1218.24L699.75 1219.03L701.04 1219.80L702.33 1220.56L703.63 1221.31L704.94 1222.05L706.25 1222.78L707.57 1223.50L708.90 1224.21L710.23 1224.90L711.57 1225.58L712.92 1226.25L714.27 1226.90L715.63 1227.55L716.99 1228.18L718.36 1228.79L719.74 1229.40L721.12 1229.99L722.51 1230.56L723.90 1231.12L725.30 1231.67L726.70 1232.21L728.11 1232.73L729.53 1233.23L730.95 1233.73L732.37 1234.21L733.80 1234.67L735.23 1235.12L736.67 1235.56L738.11 1235.98L739.56 1236.39L741.01 1236.79L742.46 1237.17L743.92 1237.54L745.38 1237.89L746.84 1238.23L748.31 1238.56L749.78 1238.87L751.25 1239.16L752.73 1239.45L754.20 1239.72L755.68 1239.97L757.17 1240.21L758.65 1240.44L760.14 1240.65L761.63 1240.85L763.12 1241.04L764.61 1241.21L766.11 1241.37L767.60 1241.51L769.10 1241.64L770.60 1241.76L772.10 1241.86L773.60 1241.95L775.10 1242.03L776.60 1242.09L778.10 1242.14L779.60 1242.18L781.10 1242.20" fill="none" stroke="#ff0000" stroke-width="7" stroke-linejoin="round" stroke-linecap="butt"/>
<path d="M119.56 1092.52L120.75 1093.44L121.94 1094.36L123.13 1095.27L124.32 1096.19L125.51 1097.10L126.71 1098.01L127.91 1098.92L129.12 1099.82L130.33 1100.71L131.54 1101.60L132.76 1102.47L133.99 1103.34L135.22 1104.20L136.46 1105.05L137.71 1105.89L138.97 1106.72L140.23 1107.53L141.51 1108.33L142.79 1109.12L144.08 1109.89L145.38 1110.65L146.69 1111.39L148.00 1112.12L149.33 1112.82L150.67 1113.51L152.01 1114.19L153.36 1114.84L154.73 1115.47L156.10 1116.09L157.48 1116.68L158.87 1117.25L160.28 1117.79L161.69 1118.31L163.11 1118.81L164.54 1119.27L165.98 1119.71L167.42 1120.12L168.88 1120.49L170.35 1120.82L171.82 1121.12L173.30 1121.38L174.79 1121.60L176.28 1121.78L177.78 1121.90L179.28 1121.98L180.79 1122.01L182.29 1121.98L183.79 1121.91L185.29 1121.79L186.79 1121.62L188.27 1121.40L189.75 1121.13L191.23 1120.83L192.69 1120.47L194.14 1120.08L195.58 1119.65L197.01 1119.17L198.42 1118.66L199.82 1118.11L201.21 1117.53L202.58 1116.92L203.94 1116.27L205.28 1115.59L206.61 1114.89L207.92 1114.16L209.22 1113.40L210.50 1112.61L211.77 1111.81L213.02 1110.97L214.26 1110.12L215.49 1109.25L216.70 1108.36L217.89 1107.45L219.08 1106.52L220.25 1105.57L221.40 1104.61L222.54 1103.63L223.67 1102.64L224.79 1101.63L225.89 1100.61L226.98 1099.57L228.06 1098.53L229.13 1097.47L230.19 1096.40L231.23 1095.32L232.26 1094.22L233.29 1093.12L234.30 1092.01L235.30 1090.88L236.28 1089.75L237.26 1088.61L238.23 1087.46L239.19 1086.29L240.13 1085.13L241.07 1083.95L241.99 1082.76L242.91 1081.57L243.81 1080.37L244.71 1079.16L245.59 1077.94L246.47 1076.72L247.33 1075.49L248.19 1074.25L249.04 1073.01L249.87 1071.76L250.70 1070.51L251.53 1069.25L252.34 1067.99L253.15 1066.72L253.94 1065.44L254.73 1064.16L255.52 1062.88L256.29 1061.59L257.06 1060.30L257.82 1059.00L258.58 1057.70L259.33 1056.40L260.07 1055.09L260.81 1053.78L261.55 1052.47L262.27 1051.15L263.00 1049.84L263.72 1048.51L264.43 1047.19L265.14 1045.87L265.85 1044.54L266.55 1043.21L267.25 1041.88L267.95 1040.55L268.65 1039.21L269.34 1037.88L270.03 1036.54L270.72 1035.21L271.40 1033.87L272.09 1032.53L272.77 1031.19L273.46 1029.85L274.14 1028.51L274.82 1027.17L275.50 1025.83L276.19 1024.49L276.87 1023.15L277.54 1021.81L278.22 1020.47L278.90 1019.12L279.58 1017.78L280.26 1016.44L280.93 1015.10L281.61 1013.75L282.28 1012.41L282.96 1011.06L283.63 1009.72L284.31 1008.38L284.98 1007.03L285.65 1005.69L286.32 1004.34L287.00 1003.00L287.67 1001.65L288.34 1000.30L289.01 998.96L289.68 997.61L290.35 996.27L291.02 994.92L291.69 993.57L292.36 992.23L293.03 990.88L293.70 989.53L294.36 988.19L295.03 986.84L295.70 985.49L296.37 984.15L297.04 982.80L297.71 981.45L298.37 980.10L299.04 978.76L299.71 977.41L300.38 976.06L301.04 974.71L301.71 973.37L302.38 972.02L303.05 970.67L303.71 969.32L304.38 967.98L305.05 966.63L305.72 965.28L306.38 963.93L307.05 962.59L307.72 961.24L308.39 959.89L309.06 958.55L309.73 957.20L310.40 955.85L311.07 954.51L311.74 953.16L312.41 951.81L313.08 950.47L313.75 949.12L314.42 947.78L315.10 946.43L315.77 945.09L316.44 943.74L317.12 942.40L317.79 941.06L318.47 939.71L319.15 938.37L319.82 937.03L320.50 935.69L321.18 934.34L321.86 933.00L322.54 931.66L323.23 930.32L323.91 928.98L324.59 927.64L325.28 926.31L325.96 924.97L326.65 923.63L327.34 922.29L328.03 920.96L328.72 919.62L329.41 918.29L330.10 916.95L330.80 915.62L331.50 914.28L332.19 912.95L332.89 911.62L333.59 910.29L334.29 908.96L335.00 907.63L335.70 906.30L336.41 904.97L337.11 903.65L337.82 902.32L338.53 901.00L339.25 899.67L339.96 898.35L340.68 897.03L341.39 895.70L342.11 894.38L342.83 893.06L343.56 891.74L344.28 890.43L345.01 889.11L345.74 887.80L346.47 886.48L347.20 885.17L347.93 883.86L348.67 882.54L349.41 881.23L350.15 879.93L350.89 878.62L351.64 877.31L352.38 876.01L353.13 874.70L353.89 873.40L354.64 872.10L355.40 870.80L356.15 869.50L356.91 868.20L357.68 866.91L358.44 865.61L359.21 864.32L359.98 863.03L360.76 861.74L361.53 860.45L362.31 859.17L363.09 857.88L363.87 856.60L364.66 855.31L365.45 854.03L366.24 852.75L367.03 851.48L367.83 850.20L368.63 848.93L369.43 847.66L370.23 846.39L371.04 845.12L371.85 843.85L372.66 842.59L373.48 841.32L374.30 840.06L375.12 838.80L375.95 837.54L376.77 836.29L377.61 835.04L378.44 833.79L379.28 832.54L380.12 831.29L380.97 830.05L381.82 828.81L382.68 827.58L383.54 826.34L384.41 825.12L385.28 823.89L386.16 822.67L387.05 821.46L387.95 820.25L388.85 819.04L389.75 817.85L390.67 816.65L391.59 815.47L392.52 814.29L393.46 813.11L394.41 811.95L395.37 810.79L396.34 809.63L397.31 808.49L398.30 807.35L399.29 806.23L400.30 805.11L401.32 804.00L402.35 802.90L403.39 801.82L404.44 800.75L405.51 799.69L406.59 798.64L407.69 797.62L408.81 796.61L409.94 795.62L411.09 794.65L412.26 793.71L413.45 792.79L414.65 791.89L415.88 791.02L417.12 790.17L418.39 789.36L419.67 788.58L420.98 787.83L422.30 787.11L423.64 786.42L424.99 785.77L426.36 785.16L427.75 784.58L429.15 784.03L430.57 783.52L431.99 783.05L433.43 782.61L434.88 782.21L436.34 781.85L437.81 781.53L439.29 781.25L440.77 781.02L442.27 780.82L443.76 780.68L445.26 780.58L446.77 780.52L448.27 780.52L449.77 780.58L451.27 780.69L452.77 780.86L454.25 781.08L455.73 781.37L457.19 781.71L458.64 782.10L460.08 782.55L461.50 783.04L462.90 783.58L464.29 784.17L465.65 784.80L467.00 785.47L468.33 786.18L469.63 786.92L470.92 787.70L472.19 788.50L473.44 789.34L474.67 790.21L475.88 791.10L477.07 792.01L478.25 792.95L479.41 793.91L480.55 794.89L481.67 795.88L482.78 796.90L483.88 797.93L484.95 798.98L486.02 800.05L487.06 801.13L488.09 802.22L489.11 803.33L490.11 804.46L491.09 805.59L492.06 806.74L493.02 807.90L493.96 809.08L494.88 810.26L495.79 811.46L496.69 812.66L497.58 813.88L498.45 815.10L499.31 816.34L500.16 817.58L500.99 818.83L501.81 820.09L502.62 821.36L503.43 822.63L504.22 823.91L505.00 825.19L505.76 826.49L506.52 827.78L507.28 829.09L508.02 830.39L508.75 831.71L509.48 833.02L510.20 834.35L510.91 835.67L511.61 837.00L512.31 838.33L513.00 839.67L513.68 841.01L514.36 842.35L515.04 843.69L515.71 845.04L516.37 846.39L517.04 847.74L517.69 849.09L518.35 850.44L519.00 851.80L519.65 853.15L520.30 854.51L520.95 855.87L521.59 857.23L522.24 858.58L522.88 859.94L523.52 861.30L524.16 862.66L524.80 864.02L525.44 865.39L526.08 866.75L526.71 868.11L527.35 869.47L527.98 870.84L528.61 872.20L529.24 873.57L529.87 874.93L530.50 876.30L531.13 877.67L531.76 879.03L532.38 880.40L533.01 881.77L533.63 883.14L534.25 884.51L534.87 885.88L535.49 887.25L536.11 888.62L536.73 889.99L537.35 891.36L537.96 892.73L538.57 894.10L539.19 895.48L539.80 896.85L540.41 898.23L541.02 899.60L541.62 900.98L542.23 902.35L542.84 903.73L543.44 905.11L544.04 906.48L544.65 907.86L545.25 909.24L545.85 910.62L546.45 912.00L547.04 913.38L547.64 914.76L548.24 916.14L548.83 917.52L549.42 918.90L550.01 920.29L550.60 921.67L551.19 923.05L551.78 924.44L552.37 925.82L552.96 927.20L553.54 928.59L554.12 929.98L554.71 931.36L555.29 932.75L555.87 934.13L556.45 935.52L557.03 936.91L557.61 938.30L558.19 939.69L558.76 941.07L559.34 942.46L559.92 943.85L560.49 945.24L561.06 946.63L561.64 948.02L562.21 949.41L562.78 950.80L563.35 952.20L563.92 953.59L564.49 954.98L565.06 956.37L565.63 957.76L566.20 959.16L566.76 960.55L567.33 961.94L567.90 963.33L568.46 964.73L569.03 966.12L569.59 967.52L570.16 968.91L570.72 970.30L571.28 971.70L571.85 973.09L572.41 974.49L572.97 975.88L573.53 977.28L574.09 978.67L574.66 980.07L575.22 981.46L575.78 982.86L576.34 984.25L576.90 985.65L577.46 987.04L578.02 988.44L578.58 989.83L579.14 991.23L579.70 992.63L580.26 994.02L580.82 995.42L581.38 996.81L581.94 998.21L582.50 999.60L583.06 1001.00L583.62 1002.40L584.18 1003.79L584.74 1005.19L585.30 1006.58L585.86 1007.98L586.42 1009.37L586.98 1010.77L587.54 1012.16L588.10 1013.56L588.66 1014.96L589.22 1016.35L589.78 1017.75L590.34 1019.14L590.91 1020.53L591.47 1021.93L592.03 1023.32L592.59 1024.72L593.16 1026.11L593.72 1027.51L594.29 1028.90L594.85 1030.29L595.42 1031.69L595.98 1033.08L596.55 1034.47L597.11 1035.87L597.68 1037.26L598.25 1038.65L598.82 1040.04L599.39 1041.44L599.96 1042.83L600.53 1044.22L601.10 1045.61L601.67 1047.00L602.24 1048.39L602.81 1049.78L603.39 1051.17L603.96 1052.56L604.54 1053.95L605.11 1055.34L605.69 1056.73L606.27 1058.12L606.85 1059.51L607.43 1060.89L608.01 1062.28L608.59 1063.67L609.18 1065.05L609.76 1066.44L610.35 1067.82L610.94 1069.20L611.53 1070.59L612.12 1071.97L612.71 1073.35L613.31 1074.73L613.90 1076.11L614.50 1077.49L615.10 1078.87L615.70 1080.25L616.31 1081.63L616.91 1083.00L617.52 1084.38L618.13 1085.75L618.74 1087.13L619.36 1088.50L619.98 1089.87L620.60 1091.24L621.22 1092.61L621.84 1093.98L622.47 1095.35L623.10 1096.71L623.73 1098.08L624.36 1099.44L625.00 1100.80L625.64 1102.16L626.28 1103.52L626.93 1104.88L627.58 1106.24L628.23 1107.59L628.88 1108.95L629.54 1110.30L630.20 1111.65L630.87 1113.00L631.53 1114.35L632.20 1115.69L632.88 1117.04L633.56 1118.38L634.24 1119.72L634.92 1121.06L635.61 1122.40L636.30 1123.73L637.00 1125.06L637.69 1126.40L638.40 1127.72L639.10 1129.05L639.81 1130.38L640.53 1131.70L641.25 1133.02L641.97 1134.34L642.70 1135.66L643.43 1136.97L644.16 1138.28L644.90 1139.59L645.64 1140.90L646.39 1142.21L647.14 1143.51L647.90 1144.81L648.66 1146.10L649.42 1147.40L650.19 1148.69L650.97 1149.98L651.75 1151.27L652.53 1152.55L653.32 1153.83L654.11 1155.11L654.91 1156.38L655.71 1157.65L656.52 1158.92L657.33 1160.19L658.15 1161.45L658.97 1162.71L659.80 1163.97L660.63 1165.22L661.47 1166.47L662.31 1167.71L663.16 1168.96L664.01 1170.19L664.87 1171.43L665.73 1172.66L666.60 1173.89L667.47 1175.11L668.35 1176.33L669.24 1177.55L670.13 1178.76L671.02 1179.97L671.92 1181.17L672.83 1182.37L673.74 1183.57L674.66 1184.76L675.59 1185.95L676.52 1187.13L677.46 1188.30L678.40 1189.47L679.35 1190.63L680.31 1191.79L681.28 1192.94L682.26 1194.08L683.24 1195.22L684.24 1196.35L685.24 1197.47L686.25 1198.58L687.27 1199.69L688.30 1200.78L689.34 1201.87L690.39 1202.95L691.45 1204.02L692.52 1205.07L693.60 1206.12L694.69 1207.15L695.79 1208.18L696.90 1209.19L698.03 1210.19L699.16 1211.18L700.31 1212.15L701.46 1213.11L702.63 1214.06L703.81 1214.99L705.00 1215.91L706.21 1216.81L707.42 1217.69L708.65 1218.56L709.89 1219.41L711.14 1220.25L712.40 1221.06L713.68 1221.86L714.96 1222.64L716.26 1223.40L717.57 1224.14L718.89 1224.87L720.22 1225.57L721.55 1226.26L722.90 1226.93L724.26 1227.58L725.62 1228.21L726.99 1228.83L728.37 1229.43L729.76 1230.01L731.15 1230.57L732.55 1231.12L733.96 1231.66L735.37 1232.18L736.79 1232.68L738.21 1233.17L739.63 1233.64L741.07 1234.10L742.50 1234.55L743.94 1234.98L745.39 1235.40L746.84 1235.80L748.29 1236.19L749.74 1236.57L751.20 1236.93L752.66 1237.29L754.13 1237.63L755.60 1237.95L757.07 1238.27L758.54 1238.58L760.01 1238.87L761.49 1239.15L762.97 1239.42L764.45 1239.68L765.94 1239.93L767.42 1240.17L768.91 1240.40L770.39 1240.62L771.88 1240.82L773.37 1241.02L774.87 1241.21L776.36 1241.39L777.85 1241.56L779.35 1241.72L780.84 1241.87" fill="none" stroke="#5cff00" stroke-width="7" stroke-linejoin="round" stroke-linecap="butt"/>
<path d="M119.14 1107.93L120.27 1108.92L121.41 1109.90L122.56 1110.86L123.72 1111.82L124.90 1112.75L126.08 1113.68L127.27 1114.59L128.48 1115.49L129.69 1116.38L130.92 1117.25L132.15 1118.11L133.39 1118.95L134.65 1119.78L135.91 1120.59L137.19 1121.38L138.47 1122.16L139.77 1122.92L141.07 1123.67L142.39 1124.39L143.72 1125.10L145.05 1125.79L146.40 1126.46L147.76 1127.10L149.12 1127.73L150.50 1128.33L151.89 1128.91L153.28 1129.46L154.69 1129.99L156.11 1130.49L157.53 1130.97L158.97 1131.41L160.41 1131.83L161.86 1132.21L163.33 1132.56L164.79 1132.88L166.27 1133.16L167.75 1133.41L169.24 1133.62L170.73 1133.78L172.23 1133.91L173.73 1133.99L175.23 1134.03L176.74 1134.03L178.24 1133.98L179.74 1133.88L181.23 1133.73L182.72 1133.53L184.20 1133.28L185.68 1132.99L187.14 1132.64L188.59 1132.25L190.03 1131.82L191.46 1131.35L192.87 1130.84L194.27 1130.29L195.66 1129.71L197.03 1129.10L198.39 1128.46L199.74 1127.79L201.07 1127.10L202.39 1126.38L203.70 1125.64L204.99 1124.88L206.28 1124.10L207.55 1123.30L208.81 1122.48L210.05 1121.64L211.29 1120.79L212.52 1119.92L213.74 1119.04L214.94 1118.15L216.14 1117.24L217.33 1116.32L218.51 1115.38L219.67 1114.43L220.83 1113.47L221.97 1112.50L223.11 1111.51L224.23 1110.51L225.34 1109.50L226.44 1108.48L227.53 1107.44L228.61 1106.39L229.67 1105.33L230.73 1104.26L231.77 1103.18L232.80 1102.09L233.82 1100.98L234.83 1099.87L235.82 1098.74L236.81 1097.61L237.78 1096.46L238.74 1095.31L239.69 1094.14L240.62 1092.96L241.55 1091.78L242.46 1090.59L243.37 1089.39L244.26 1088.18L245.14 1086.96L246.01 1085.74L246.88 1084.51L247.73 1083.27L248.57 1082.03L249.40 1080.77L250.23 1079.52L251.04 1078.25L251.84 1076.98L252.64 1075.71L253.43 1074.43L254.21 1073.15L254.98 1071.86L255.74 1070.56L256.50 1069.26L257.25 1067.96L257.99 1066.65L258.72 1065.34L259.45 1064.03L260.17 1062.71L260.89 1061.39L261.60 1060.06L262.30 1058.74L263.00 1057.41L263.70 1056.07L264.39 1054.74L265.07 1053.40L265.75 1052.06L266.43 1050.72L267.10 1049.38L267.77 1048.03L268.44 1046.68L269.10 1045.33L269.76 1043.98L270.42 1042.63L271.07 1041.28L271.73 1039.93L272.38 1038.57L273.03 1037.22L273.68 1035.86L274.32 1034.51L274.97 1033.15L275.62 1031.79L276.26 1030.44L276.91 1029.08L277.56 1027.72L278.20 1026.37L278.85 1025.01L279.49 1023.65L280.14 1022.30L280.79 1020.94L281.43 1019.58L282.08 1018.23L282.72 1016.87L283.37 1015.51L284.02 1014.16L284.66 1012.80L285.31 1011.44L285.95 1010.08L286.60 1008.73L287.25 1007.37L287.89 1006.01L288.54 1004.66L289.18 1003.30L289.83 1001.94L290.48 1000.59L291.12 999.23L291.77 997.88L292.42 996.52L293.07 995.16L293.71 993.81L294.36 992.45L295.01 991.10L295.66 989.74L296.31 988.38L296.95 987.03L297.60 985.67L298.25 984.32L298.90 982.96L299.55 981.61L300.20 980.25L300.85 978.90L301.50 977.54L302.16 976.19L302.81 974.84L303.46 973.48L304.11 972.13L304.76 970.77L305.42 969.42L306.07 968.07L306.72 966.71L307.38 965.36L308.03 964.01L308.69 962.66L309.35 961.30L310.00 959.95L310.66 958.60L311.32 957.25L311.98 955.90L312.63 954.55L313.29 953.20L313.95 951.85L314.62 950.50L315.28 949.15L315.94 947.80L316.60 946.45L317.27 945.11L317.93 943.76L318.60 942.41L319.27 941.06L319.93 939.72L320.60 938.37L321.27 937.03L321.94 935.68L322.62 934.34L323.29 933.00L323.96 931.65L324.64 930.31L325.32 928.97L325.99 927.63L326.67 926.29L327.35 924.95L328.03 923.61L328.72 922.27L329.40 920.93L330.08 919.59L330.77 918.26L331.46 916.92L332.15 915.58L332.84 914.25L333.53 912.91L334.22 911.58L334.92 910.25L335.61 908.92L336.31 907.59L337.01 906.26L337.71 904.93L338.42 903.60L339.12 902.27L339.83 900.94L340.53 899.62L341.24 898.29L341.95 896.97L342.67 895.65L343.38 894.32L344.10 893.00L344.81 891.68L345.53 890.36L346.25 889.05L346.98 887.73L347.70 886.41L348.43 885.10L349.16 883.78L349.89 882.47L350.62 881.16L351.36 879.85L352.10 878.54L352.84 877.23L353.58 875.92L354.32 874.62L355.06 873.31L355.81 872.01L356.56 870.71L357.31 869.40L358.07 868.10L358.82 866.81L359.58 865.51L360.34 864.21L361.11 862.92L361.87 861.62L362.64 860.33L363.41 859.04L364.18 857.75L364.95 856.46L365.73 855.18L366.51 853.89L367.29 852.61L368.08 851.33L368.86 850.05L369.65 848.77L370.44 847.49L371.24 846.22L372.03 844.94L372.83 843.67L373.63 842.40L374.44 841.13L375.25 839.86L376.05 838.59L376.87 837.33L377.68 836.07L378.50 834.81L379.32 833.55L380.15 832.29L380.98 831.04L381.81 829.79L382.65 828.55L383.50 827.30L384.35 826.07L385.21 824.83L386.08 823.61L386.96 822.39L387.84 821.17L388.73 819.96L389.64 818.76L390.55 817.57L391.47 816.38L392.40 815.20L393.35 814.03L394.30 812.87L395.27 811.72L396.25 810.58L397.24 809.45L398.24 808.34L399.26 807.23L400.30 806.14L401.34 805.06L402.40 804.00L403.48 802.95L404.57 801.92L405.68 800.90L406.80 799.90L407.94 798.92L409.09 797.96L410.26 797.01L411.45 796.09L412.65 795.19L413.87 794.31L415.10 793.45L416.35 792.61L417.62 791.80L418.90 791.01L420.19 790.25L421.50 789.52L422.83 788.81L424.16 788.12L425.52 787.47L426.88 786.84L428.26 786.24L429.65 785.67L431.05 785.12L432.46 784.62L433.89 784.14L435.32 783.70L436.77 783.29L438.23 782.92L439.69 782.59L441.17 782.30L442.65 782.05L444.14 781.85L445.63 781.70L447.13 781.61L448.64 781.56L450.14 781.57L451.64 781.65L453.14 781.79L454.62 781.99L456.10 782.27L457.56 782.61L459.01 783.03L460.43 783.51L461.83 784.06L463.21 784.66L464.56 785.32L465.88 786.03L467.18 786.78L468.46 787.58L469.70 788.42L470.93 789.29L472.13 790.19L473.31 791.13L474.46 792.09L475.60 793.07L476.71 794.08L477.81 795.11L478.88 796.16L479.94 797.22L480.99 798.30L482.02 799.40L483.03 800.51L484.03 801.63L485.02 802.76L486.00 803.90L486.97 805.05L487.92 806.21L488.86 807.39L489.79 808.57L490.70 809.76L491.60 810.96L492.50 812.17L493.38 813.39L494.25 814.61L495.10 815.85L495.95 817.09L496.79 818.34L497.61 819.59L498.43 820.86L499.23 822.13L500.03 823.40L500.81 824.68L501.59 825.97L502.36 827.26L503.11 828.56L503.86 829.86L504.61 831.17L505.34 832.48L506.07 833.79L506.79 835.11L507.50 836.43L508.21 837.76L508.91 839.09L509.60 840.42L510.29 841.76L510.98 843.10L511.66 844.44L512.33 845.78L513.00 847.12L513.67 848.47L514.33 849.82L514.99 851.17L515.65 852.52L516.30 853.87L516.95 855.23L517.60 856.58L518.25 857.94L518.90 859.29L519.55 860.65L520.20 862.01L520.84 863.36L521.49 864.72L522.13 866.08L522.78 867.43L523.43 868.79L524.07 870.15L524.72 871.50L525.36 872.86L526.01 874.22L526.65 875.58L527.30 876.93L527.94 878.29L528.58 879.65L529.23 881.01L529.87 882.37L530.51 883.72L531.15 885.08L531.79 886.44L532.43 887.80L533.07 889.16L533.71 890.52L534.34 891.89L534.98 893.25L535.62 894.61L536.25 895.97L536.88 897.33L537.52 898.70L538.15 900.06L538.78 901.43L539.41 902.79L540.03 904.16L540.66 905.52L541.28 906.89L541.91 908.26L542.53 909.62L543.15 910.99L543.77 912.36L544.39 913.73L545.01 915.10L545.62 916.47L546.23 917.84L546.85 919.22L547.46 920.59L548.06 921.96L548.67 923.34L549.28 924.71L549.88 926.09L550.48 927.47L551.08 928.85L551.68 930.23L552.27 931.61L552.86 932.99L553.46 934.37L554.05 935.75L554.64 937.13L555.22 938.51L555.81 939.90L556.39 941.28L556.98 942.67L557.56 944.05L558.14 945.44L558.72 946.83L559.29 948.22L559.87 949.60L560.44 950.99L561.02 952.38L561.59 953.77L562.16 955.16L562.73 956.55L563.29 957.94L563.86 959.34L564.43 960.73L564.99 962.12L565.56 963.51L566.12 964.91L566.68 966.30L567.24 967.69L567.80 969.09L568.36 970.48L568.92 971.88L569.47 973.27L570.03 974.67L570.59 976.07L571.14 977.46L571.70 978.86L572.25 980.26L572.80 981.65L573.36 983.05L573.91 984.45L574.46 985.85L575.01 987.25L575.56 988.64L576.11 990.04L576.66 991.44L577.21 992.84L577.76 994.24L578.30 995.64L578.85 997.04L579.40 998.44L579.95 999.84L580.50 1001.24L581.04 1002.64L581.59 1004.04L582.14 1005.44L582.68 1006.83L583.23 1008.23L583.78 1009.63L584.32 1011.03L584.87 1012.43L585.42 1013.83L585.97 1015.23L586.51 1016.63L587.06 1018.03L587.61 1019.43L588.16 1020.83L588.70 1022.23L589.25 1023.63L589.80 1025.03L590.35 1026.43L590.90 1027.82L591.45 1029.22L592.00 1030.62L592.55 1032.02L593.11 1033.42L593.66 1034.81L594.21 1036.21L594.76 1037.61L595.32 1039.01L595.87 1040.40L596.43 1041.80L596.99 1043.19L597.54 1044.59L598.10 1045.99L598.66 1047.38L599.22 1048.77L599.78 1050.17L600.34 1051.56L600.90 1052.96L601.47 1054.35L602.03 1055.74L602.60 1057.13L603.17 1058.53L603.73 1059.92L604.30 1061.31L604.87 1062.70L605.45 1064.09L606.02 1065.48L606.60 1066.86L607.17 1068.25L607.75 1069.64L608.33 1071.02L608.92 1072.41L609.50 1073.79L610.08 1075.18L610.67 1076.56L611.26 1077.94L611.85 1079.32L612.45 1080.71L613.04 1082.08L613.64 1083.46L614.24 1084.84L614.84 1086.22L615.45 1087.59L616.06 1088.97L616.67 1090.34L617.28 1091.71L617.89 1093.09L618.51 1094.46L619.13 1095.82L619.75 1097.19L620.38 1098.56L621.01 1099.92L621.64 1101.29L622.27 1102.65L622.91 1104.01L623.55 1105.37L624.19 1106.73L624.84 1108.09L625.48 1109.44L626.14 1110.80L626.79 1112.15L627.45 1113.50L628.11 1114.85L628.78 1116.20L629.45 1117.54L630.12 1118.88L630.80 1120.23L631.48 1121.57L632.16 1122.91L632.85 1124.24L633.54 1125.58L634.23 1126.91L634.93 1128.24L635.63 1129.57L636.34 1130.90L637.05 1132.22L637.76 1133.54L638.48 1134.86L639.20 1136.18L639.93 1137.50L640.66 1138.81L641.39 1140.12L642.13 1141.43L642.88 1142.73L643.62 1144.04L644.38 1145.34L645.13 1146.64L645.89 1147.93L646.66 1149.23L647.43 1150.52L648.20 1151.80L648.98 1153.09L649.77 1154.37L650.56 1155.65L651.35 1156.92L652.15 1158.20L652.95 1159.47L653.76 1160.73L654.57 1162.00L655.39 1163.26L656.22 1164.52L657.04 1165.77L657.88 1167.02L658.72 1168.27L659.56 1169.51L660.41 1170.75L661.26 1171.99L662.12 1173.22L662.99 1174.45L663.85 1175.68L664.73 1176.90L665.61 1178.12L666.50 1179.33L667.39 1180.54L668.28 1181.75L669.18 1182.95L670.09 1184.15L671.00 1185.34L671.92 1186.53L672.85 1187.71L673.78 1188.89L674.72 1190.06L675.67 1191.23L676.62 1192.39L677.58 1193.55L678.55 1194.69L679.53 1195.84L680.52 1196.97L681.51 1198.10L682.51 1199.22L683.52 1200.33L684.55 1201.43L685.58 1202.52L686.62 1203.61L687.66 1204.69L688.72 1205.75L689.79 1206.81L690.87 1207.85L691.96 1208.89L693.06 1209.91L694.17 1210.92L695.30 1211.92L696.43 1212.91L697.57 1213.88L698.73 1214.84L699.90 1215.79L701.08 1216.72L702.27 1217.64L703.47 1218.54L704.68 1219.43L705.91 1220.30L707.14 1221.15L708.39 1221.99L709.65 1222.80L710.93 1223.60L712.21 1224.39L713.50 1225.15L714.81 1225.89L716.13 1226.61L717.46 1227.32L718.79 1228.00L720.14 1228.67L721.50 1229.31L722.86 1229.94L724.24 1230.55L725.62 1231.14L727.01 1231.72L728.40 1232.28L729.80 1232.82L731.21 1233.34L732.62 1233.85L734.04 1234.35L735.47 1234.83L736.90 1235.29L738.33 1235.74L739.77 1236.17L741.21 1236.60L742.66 1237.00L744.11 1237.40L745.56 1237.78L747.02 1238.15L748.48 1238.51L749.94 1238.85L751.41 1239.19L752.87 1239.51L754.34 1239.82L755.82 1240.12L757.29 1240.41L758.77 1240.69L760.24 1240.96L761.72 1241.23L763.21 1241.48L764.69 1241.72L766.17 1241.96L767.66 1242.18L769.15 1242.40L770.63 1242.61L772.12 1242.81L773.61 1243.01L775.10 1243.19L776.60 1243.37L778.09 1243.55L779.58 1243.71L781.08 1243.88" fill="none" stroke="#1f3cff" stroke-width="7" stroke-linejoin="round" stroke-linecap="butt"/>
<path d="M118.57 1103.10L119.78 1103.99L120.99 1104.88L122.19 1105.78L123.39 1106.69L124.58 1107.60L125.77 1108.52L126.95 1109.45L128.13 1110.38L129.30 1111.32L130.48 1112.26L131.64 1113.20L132.80 1114.16L133.96 1115.11L135.12 1116.07L136.27 1117.04L137.42 1118.00L138.56 1118.98L139.71 1119.95L140.85 1120.93L141.98 1121.91L143.12 1122.90L144.25 1123.88L145.38 1124.87L146.51 1125.87L147.63 1126.86L148.76 1127.85L149.88 1128.85L151.01 1129.85L152.13 1130.85L153.25 1131.85L154.37 1132.85L155.49 1133.85L156.61 1134.85L157.73 1135.85L158.85 1136.85L159.97 1137.85L161.10 1138.85L162.22 1139.84L163.34 1140.84L164.47 1141.83L165.60 1142.83L166.73 1143.82L167.86 1144.80L168.99 1145.79L170.14 1146.76L171.28 1147.73L172.44 1148.69L173.60 1149.65L174.77 1150.59L175.95 1151.52L177.14 1152.43L178.34 1153.33L179.56 1154.22L180.78 1155.08L182.03 1155.93L183.28 1156.75L184.55 1157.56L185.84 1158.33L187.14 1159.08L188.46 1159.80L189.79 1160.49L191.15 1161.14L192.52 1161.76L193.90 1162.34L195.31 1162.87L196.72 1163.37L198.16 1163.82L199.60 1164.22L201.06 1164.57L202.54 1164.88L204.02 1165.13L205.50 1165.33L207.00 1165.48L208.50 1165.57L210.00 1165.60L211.50 1165.58L213.00 1165.49L214.50 1165.33L215.98 1165.11L217.46 1164.82L218.91 1164.47L220.36 1164.05L221.78 1163.56L223.18 1163.02L224.55 1162.42L225.91 1161.76L227.23 1161.05L228.53 1160.29L229.79 1159.49L231.03 1158.64L232.24 1157.75L233.42 1156.81L234.57 1155.85L235.69 1154.84L236.78 1153.81L237.84 1152.75L238.88 1151.67L239.90 1150.56L240.89 1149.43L241.86 1148.28L242.80 1147.12L243.73 1145.94L244.64 1144.74L245.54 1143.53L246.41 1142.32L247.28 1141.09L248.13 1139.85L248.97 1138.60L249.80 1137.35L250.62 1136.10L251.44 1134.83L252.25 1133.57L253.05 1132.30L253.85 1131.03L254.65 1129.75L255.44 1128.48L256.24 1127.21L257.04 1125.93L257.83 1124.66L258.63 1123.38L259.42 1122.11L260.21 1120.83L261.00 1119.55L261.78 1118.27L262.57 1116.99L263.35 1115.71L264.13 1114.43L264.91 1113.14L265.68 1111.85L266.45 1110.56L267.22 1109.27L267.98 1107.98L268.74 1106.68L269.50 1105.38L270.25 1104.08L271.00 1102.78L271.74 1101.47L272.47 1100.16L273.21 1098.85L273.93 1097.54L274.65 1096.22L275.37 1094.90L276.08 1093.58L276.79 1092.25L277.49 1090.92L278.19 1089.59L278.88 1088.26L279.57 1086.92L280.25 1085.59L280.93 1084.25L281.61 1082.91L282.28 1081.56L282.95 1080.22L283.61 1078.87L284.27 1077.52L284.93 1076.17L285.58 1074.82L286.23 1073.46L286.87 1072.10L287.52 1070.75L288.16 1069.39L288.79 1068.03L289.43 1066.67L290.06 1065.30L290.69 1063.94L291.31 1062.57L291.93 1061.20L292.55 1059.84L293.17 1058.47L293.79 1057.10L294.40 1055.73L295.01 1054.35L295.62 1052.98L296.23 1051.61L296.83 1050.23L297.44 1048.86L298.04 1047.48L298.64 1046.10L299.24 1044.73L299.84 1043.35L300.44 1041.97L301.03 1040.59L301.63 1039.21L302.22 1037.83L302.81 1036.45L303.40 1035.07L304.00 1033.69L304.59 1032.31L305.18 1030.93L305.77 1029.55L306.36 1028.17L306.95 1026.78L307.54 1025.40L308.12 1024.02L308.71 1022.64L309.30 1021.26L309.89 1019.87L310.48 1018.49L311.07 1017.11L311.65 1015.73L312.24 1014.35L312.83 1012.96L313.42 1011.58L314.00 1010.20L314.59 1008.82L315.18 1007.43L315.77 1006.05L316.36 1004.67L316.94 1003.29L317.53 1001.90L318.12 1000.52L318.71 999.14L319.30 997.76L319.89 996.38L320.48 995.00L321.07 993.61L321.66 992.23L322.25 990.85L322.84 989.47L323.43 988.09L324.02 986.71L324.62 985.33L325.21 983.95L325.80 982.57L326.40 981.19L326.99 979.81L327.59 978.43L328.18 977.05L328.78 975.67L329.38 974.30L329.98 972.92L330.58 971.54L331.18 970.16L331.78 968.79L332.38 967.41L332.98 966.03L333.58 964.66L334.19 963.28L334.79 961.91L335.40 960.53L336.01 959.16L336.62 957.79L337.22 956.41L337.84 955.04L338.45 953.67L339.06 952.30L339.67 950.93L340.29 949.56L340.90 948.19L341.52 946.82L342.14 945.45L342.76 944.08L343.38 942.71L344.01 941.35L344.63 939.98L345.26 938.61L345.88 937.25L346.51 935.88L347.14 934.52L347.77 933.16L348.41 931.80L349.04 930.43L349.68 929.07L350.32 927.71L350.96 926.36L351.60 925.00L352.24 923.64L352.89 922.28L353.53 920.93L354.18 919.57L354.83 918.22L355.48 916.86L356.14 915.51L356.79 914.16L357.45 912.81L358.11 911.46L358.77 910.11L359.44 908.76L360.10 907.42L360.77 906.07L361.44 904.73L362.11 903.38L362.78 902.04L363.46 900.70L364.14 899.36L364.82 898.02L365.50 896.68L366.19 895.35L366.87 894.01L367.56 892.68L368.26 891.34L368.95 890.01L369.65 888.68L370.34 887.35L371.05 886.02L371.75 884.69L372.45 883.37L373.16 882.04L373.87 880.72L374.58 879.40L375.30 878.08L376.01 876.75L376.73 875.44L377.45 874.12L378.18 872.80L378.90 871.49L379.63 870.17L380.36 868.86L381.09 867.55L381.82 866.24L382.56 864.93L383.30 863.62L384.04 862.31L384.78 861.00L385.52 859.70L386.27 858.40L387.02 857.09L387.77 855.79L388.52 854.49L389.28 853.19L390.03 851.90L390.79 850.60L391.55 849.30L392.32 848.01L393.08 846.72L393.85 845.43L394.62 844.14L395.39 842.85L396.16 841.56L396.93 840.27L397.71 838.98L398.49 837.70L399.27 836.42L400.05 835.13L400.84 833.85L401.62 832.57L402.41 831.29L403.20 830.02L403.99 828.74L404.79 827.47L405.58 826.19L406.38 824.92L407.18 823.65L407.98 822.38L408.79 821.11L409.60 819.85L410.42 818.59L411.25 817.33L412.08 816.08L412.93 814.84L413.78 813.61L414.65 812.38L415.53 811.16L416.42 809.95L417.33 808.76L418.25 807.57L419.19 806.40L420.15 805.24L421.12 804.10L422.12 802.98L423.13 801.87L424.17 800.78L425.23 799.71L426.30 798.67L427.40 797.64L428.53 796.65L429.67 795.67L430.84 794.73L432.03 793.81L433.24 792.93L434.48 792.07L435.73 791.25L437.01 790.45L438.31 789.70L439.62 788.97L440.96 788.29L442.31 787.64L443.69 787.03L445.08 786.46L446.49 785.94L447.91 785.47L449.35 785.04L450.81 784.67L452.28 784.36L453.76 784.10L455.25 783.91L456.74 783.80L458.25 783.75L459.75 783.78L461.24 783.90L462.73 784.09L464.21 784.36L465.67 784.71L467.11 785.13L468.54 785.61L469.93 786.16L471.31 786.77L472.66 787.43L473.98 788.14L475.28 788.90L476.54 789.71L477.79 790.55L479.01 791.43L480.20 792.34L481.36 793.29L482.50 794.27L483.62 795.27L484.72 796.30L485.79 797.35L486.83 798.43L487.86 799.53L488.86 800.64L489.85 801.78L490.81 802.93L491.75 804.10L492.68 805.29L493.58 806.49L494.46 807.70L495.33 808.93L496.17 810.17L497.00 811.43L497.81 812.69L498.60 813.97L499.37 815.26L500.13 816.55L500.87 817.86L501.60 819.17L502.31 820.50L503.01 821.83L503.70 823.16L504.37 824.50L505.04 825.85L505.69 827.20L506.34 828.56L506.97 829.92L507.60 831.28L508.22 832.65L508.84 834.02L509.45 835.39L510.06 836.77L510.67 838.14L511.27 839.52L511.87 840.89L512.47 842.27L513.07 843.65L513.66 845.03L514.26 846.41L514.85 847.79L515.43 849.17L516.02 850.56L516.60 851.94L517.18 853.32L517.76 854.71L518.34 856.10L518.92 857.48L519.49 858.87L520.07 860.26L520.64 861.65L521.21 863.04L521.78 864.43L522.34 865.82L522.91 867.21L523.47 868.60L524.04 870.00L524.60 871.39L525.16 872.78L525.72 874.18L526.28 875.57L526.84 876.96L527.40 878.36L527.95 879.75L528.51 881.15L529.07 882.55L529.62 883.94L530.18 885.34L530.73 886.73L531.28 888.13L531.84 889.53L532.39 890.92L532.94 892.32L533.49 893.72L534.05 895.11L534.60 896.51L535.15 897.91L535.70 899.30L536.26 900.70L536.81 902.10L537.36 903.49L537.92 904.89L538.47 906.29L539.02 907.68L539.58 909.08L540.13 910.48L540.69 911.87L541.24 913.27L541.80 914.66L542.36 916.06L542.91 917.45L543.47 918.85L544.02 920.24L544.58 921.64L545.13 923.04L545.69 924.43L546.24 925.83L546.80 927.22L547.35 928.62L547.90 930.02L548.46 931.41L549.01 932.81L549.56 934.21L550.11 935.61L550.66 937.00L551.21 938.40L551.76 939.80L552.31 941.20L552.85 942.60L553.40 944.00L553.94 945.40L554.48 946.80L555.03 948.20L555.57 949.60L556.10 951.00L556.64 952.41L557.18 953.81L557.71 955.21L558.25 956.62L558.78 958.02L559.31 959.43L559.83 960.83L560.36 962.24L560.88 963.65L561.41 965.06L561.93 966.47L562.44 967.88L562.96 969.29L563.47 970.70L563.98 972.11L564.49 973.53L565.00 974.94L565.51 976.35L566.01 977.77L566.51 979.19L567.00 980.60L567.50 982.02L567.99 983.44L568.49 984.86L568.98 986.28L569.47 987.70L569.95 989.12L570.44 990.54L570.92 991.96L571.41 993.39L571.89 994.81L572.37 996.23L572.85 997.65L573.33 999.08L573.81 1000.50L574.29 1001.92L574.77 1003.35L575.25 1004.77L575.73 1006.19L576.21 1007.62L576.69 1009.04L577.17 1010.47L577.65 1011.89L578.13 1013.31L578.61 1014.74L579.09 1016.16L579.57 1017.58L580.05 1019.00L580.54 1020.43L581.02 1021.85L581.51 1023.27L582.00 1024.69L582.48 1026.11L582.97 1027.53L583.47 1028.95L583.96 1030.37L584.46 1031.79L584.95 1033.20L585.45 1034.62L585.95 1036.04L586.46 1037.45L586.96 1038.87L587.47 1040.28L587.98 1041.69L588.50 1043.10L589.02 1044.51L589.54 1045.92L590.06 1047.33L590.58 1048.74L591.11 1050.14L591.64 1051.55L592.18 1052.95L592.71 1054.36L593.25 1055.76L593.80 1057.16L594.34 1058.56L594.89 1059.96L595.44 1061.36L595.99 1062.75L596.54 1064.15L597.10 1065.55L597.66 1066.94L598.22 1068.33L598.78 1069.73L599.35 1071.12L599.92 1072.51L600.48 1073.90L601.06 1075.29L601.63 1076.67L602.21 1078.06L602.78 1079.45L603.36 1080.83L603.95 1082.22L604.53 1083.60L605.11 1084.99L605.70 1086.37L606.29 1087.75L606.88 1089.13L607.47 1090.51L608.07 1091.89L608.66 1093.27L609.26 1094.65L609.86 1096.03L610.46 1097.40L611.06 1098.78L611.66 1100.16L612.27 1101.53L612.87 1102.91L613.48 1104.28L614.09 1105.66L614.70 1107.03L615.31 1108.40L615.92 1109.77L616.53 1111.14L617.14 1112.52L617.76 1113.89L618.37 1115.26L618.99 1116.63L619.61 1117.99L620.23 1119.36L620.85 1120.73L621.48 1122.10L622.10 1123.46L622.73 1124.82L623.36 1126.19L624.00 1127.55L624.64 1128.91L625.28 1130.27L625.92 1131.63L626.57 1132.98L627.22 1134.34L627.87 1135.69L628.53 1137.04L629.19 1138.39L629.85 1139.74L630.52 1141.08L631.20 1142.42L631.88 1143.76L632.56 1145.10L633.25 1146.43L633.94 1147.77L634.64 1149.10L635.35 1150.42L636.06 1151.75L636.77 1153.07L637.49 1154.38L638.22 1155.70L638.96 1157.01L639.70 1158.32L640.44 1159.62L641.20 1160.92L641.96 1162.21L642.72 1163.51L643.50 1164.79L644.28 1166.08L645.07 1167.35L645.87 1168.63L646.67 1169.90L647.48 1171.16L648.30 1172.42L649.13 1173.67L649.97 1174.92L650.81 1176.16L651.66 1177.40L652.53 1178.63L653.40 1179.85L654.28 1181.07L655.16 1182.28L656.06 1183.49L656.97 1184.69L657.88 1185.88L658.81 1187.06L659.74 1188.24L660.68 1189.41L661.64 1190.57L662.60 1191.72L663.57 1192.87L664.55 1194.00L665.54 1195.13L666.54 1196.25L667.55 1197.36L668.58 1198.46L669.61 1199.56L670.65 1200.64L671.70 1201.71L672.76 1202.78L673.83 1203.83L674.91 1204.87L676.01 1205.90L677.11 1206.92L678.22 1207.93L679.34 1208.93L680.48 1209.91L681.62 1210.89L682.78 1211.85L683.94 1212.80L685.11 1213.74L686.30 1214.66L687.49 1215.57L688.70 1216.47L689.91 1217.35L691.14 1218.22L692.37 1219.08L693.62 1219.92L694.87 1220.75L696.13 1221.56L697.41 1222.35L698.69 1223.14L699.98 1223.90L701.28 1224.65L702.59 1225.39L703.91 1226.11L705.24 1226.81L706.58 1227.49L707.92 1228.16L709.28 1228.81L710.64 1229.44L712.01 1230.05L713.39 1230.65L714.78 1231.22L716.17 1231.78L717.57 1232.32L718.98 1232.85L720.40 1233.36L721.82 1233.85L723.24 1234.32L724.67 1234.78L726.11 1235.22L727.55 1235.64L728.99 1236.05L730.44 1236.45L731.90 1236.83L733.35 1237.19L734.81 1237.54L736.28 1237.88L737.75 1238.20L739.22 1238.51L740.69 1238.80L742.16 1239.08L743.64 1239.35L745.12 1239.61L746.60 1239.86L748.09 1240.09L749.57 1240.31L751.06 1240.52L752.55 1240.72L754.04 1240.91L755.53 1241.09L757.02 1241.26L758.52 1241.42L760.01 1241.57L761.51 1241.71L763.00 1241.84L764.50 1241.96L766.00 1242.08L767.50 1242.19L769.00 1242.29L770.49 1242.38L771.99 1242.46L773.49 1242.54L775.00 1242.61L776.50 1242.67L778.00 1242.73L779.50 1242.78L781.00 1242.83" fill="none" stroke="#249a72" stroke-width="7" stroke-linejoin="round" stroke-linecap="butt"/>
<path d="M120.00 1098.63L121.33 1099.34L122.65 1100.05L123.97 1100.77L125.29 1101.49L126.60 1102.22L127.91 1102.96L129.22 1103.69L130.53 1104.44L131.83 1105.18L133.14 1105.93L134.44 1106.69L135.74 1107.44L137.03 1108.20L138.33 1108.96L139.63 1109.72L140.92 1110.48L142.22 1111.24L143.52 1112.00L144.81 1112.76L146.11 1113.51L147.41 1114.27L148.71 1115.02L150.02 1115.77L151.32 1116.52L152.63 1117.26L153.93 1118.00L155.25 1118.73L156.56 1119.46L157.88 1120.18L159.20 1120.89L160.53 1121.60L161.87 1122.29L163.21 1122.97L164.56 1123.63L165.91 1124.28L167.27 1124.92L168.64 1125.54L170.02 1126.14L171.40 1126.72L172.80 1127.29L174.20 1127.82L175.61 1128.34L177.03 1128.83L178.46 1129.29L179.90 1129.72L181.35 1130.12L182.81 1130.49L184.27 1130.83L185.75 1131.13L187.23 1131.39L188.71 1131.60L190.21 1131.78L191.71 1131.90L193.21 1131.97L194.71 1131.99L196.21 1131.95L197.71 1131.85L199.20 1131.69L200.69 1131.46L202.16 1131.16L203.62 1130.80L205.06 1130.38L206.49 1129.90L207.90 1129.38L209.29 1128.81L210.67 1128.21L212.02 1127.56L213.36 1126.88L214.69 1126.17L215.99 1125.43L217.28 1124.65L218.56 1123.86L219.81 1123.03L221.05 1122.18L222.28 1121.31L223.49 1120.42L224.68 1119.50L225.85 1118.57L227.02 1117.61L228.16 1116.64L229.29 1115.65L230.41 1114.65L231.51 1113.63L232.60 1112.59L233.68 1111.54L234.74 1110.48L235.79 1109.40L236.83 1108.32L237.86 1107.22L238.87 1106.11L239.87 1104.99L240.86 1103.85L241.83 1102.71L242.80 1101.56L243.75 1100.40L244.69 1099.22L245.62 1098.04L246.54 1096.85L247.44 1095.65L248.34 1094.44L249.22 1093.23L250.09 1092.00L250.95 1090.77L251.80 1089.53L252.65 1088.29L253.48 1087.03L254.30 1085.77L255.11 1084.51L255.91 1083.24L256.70 1081.96L257.49 1080.68L258.26 1079.39L259.03 1078.10L259.79 1076.80L260.54 1075.50L261.28 1074.19L262.02 1072.88L262.75 1071.57L263.47 1070.25L264.19 1068.93L264.90 1067.61L265.60 1066.28L266.30 1064.95L267.00 1063.62L267.69 1062.28L268.37 1060.94L269.05 1059.60L269.73 1058.26L270.40 1056.92L271.07 1055.57L271.74 1054.22L272.40 1052.88L273.06 1051.53L273.72 1050.18L274.38 1048.82L275.04 1047.47L275.69 1046.12L276.35 1044.77L277.00 1043.41L277.65 1042.06L278.30 1040.71L278.96 1039.35L279.61 1038.00L280.26 1036.64L280.91 1035.29L281.56 1033.93L282.21 1032.58L282.86 1031.22L283.51 1029.87L284.16 1028.51L284.81 1027.16L285.46 1025.80L286.11 1024.45L286.76 1023.09L287.41 1021.74L288.06 1020.38L288.70 1019.02L289.35 1017.67L290.00 1016.31L290.65 1014.95L291.29 1013.60L291.94 1012.24L292.59 1010.88L293.23 1009.53L293.88 1008.17L294.52 1006.81L295.17 1005.46L295.82 1004.10L296.46 1002.74L297.11 1001.38L297.75 1000.03L298.40 998.67L299.04 997.31L299.68 995.95L300.33 994.59L300.97 993.24L301.62 991.88L302.26 990.52L302.90 989.16L303.55 987.80L304.19 986.45L304.83 985.09L305.48 983.73L306.12 982.37L306.76 981.01L307.41 979.65L308.05 978.30L308.69 976.94L309.34 975.58L309.98 974.22L310.62 972.86L311.27 971.50L311.91 970.15L312.55 968.79L313.20 967.43L313.84 966.07L314.49 964.71L315.13 963.36L315.78 962.00L316.42 960.64L317.07 959.28L317.71 957.93L318.36 956.57L319.01 955.21L319.66 953.86L320.30 952.50L320.95 951.15L321.60 949.79L322.25 948.44L322.90 947.08L323.56 945.73L324.21 944.37L324.86 943.02L325.52 941.67L326.17 940.32L326.83 938.96L327.48 937.61L328.14 936.26L328.80 934.91L329.46 933.56L330.12 932.21L330.78 930.86L331.45 929.51L332.11 928.16L332.78 926.82L333.44 925.47L334.11 924.12L334.78 922.78L335.45 921.43L336.13 920.09L336.80 918.74L337.47 917.40L338.15 916.06L338.83 914.72L339.51 913.38L340.19 912.04L340.87 910.70L341.55 909.36L342.24 908.02L342.93 906.69L343.62 905.35L344.31 904.02L345.00 902.68L345.69 901.35L346.39 900.02L347.09 898.69L347.79 897.36L348.49 896.03L349.19 894.70L349.90 893.37L350.61 892.05L351.32 890.72L352.03 889.40L352.74 888.07L353.46 886.75L354.18 885.43L354.90 884.11L355.62 882.80L356.35 881.48L357.07 880.16L357.80 878.85L358.53 877.54L359.27 876.23L360.01 874.92L360.74 873.61L361.49 872.30L362.23 870.99L362.98 869.69L363.73 868.39L364.48 867.09L365.23 865.79L365.99 864.49L366.75 863.19L367.51 861.89L368.28 860.60L369.04 859.31L369.81 858.02L370.59 856.73L371.36 855.44L372.14 854.16L372.92 852.87L373.71 851.59L374.50 850.31L375.29 849.03L376.08 847.76L376.88 846.48L377.68 845.21L378.48 843.94L379.29 842.67L380.10 841.41L380.91 840.14L381.73 838.88L382.55 837.62L383.37 836.37L384.20 835.11L385.04 833.86L385.87 832.61L386.72 831.37L387.56 830.13L388.41 828.89L389.27 827.65L390.13 826.42L390.99 825.19L391.86 823.96L392.73 822.74L393.61 821.52L394.50 820.31L395.39 819.09L396.28 817.89L397.18 816.68L398.09 815.48L399.00 814.29L399.91 813.10L400.84 811.91L401.77 810.73L402.71 809.56L403.66 808.40L404.63 807.24L405.60 806.10L406.59 804.97L407.60 803.85L408.62 802.75L409.65 801.66L410.71 800.59L411.78 799.53L412.87 798.50L413.97 797.48L415.10 796.49L416.25 795.52L417.42 794.57L418.60 793.65L419.81 792.75L421.04 791.89L422.29 791.05L423.55 790.24L424.84 789.46L426.14 788.72L427.47 788.00L428.81 787.32L430.16 786.67L431.54 786.07L432.93 785.50L434.33 784.97L435.76 784.48L437.19 784.04L438.64 783.65L440.11 783.30L441.58 783.02L443.07 782.79L444.56 782.62L446.06 782.51L447.56 782.48L449.06 782.51L450.56 782.62L452.05 782.80L453.53 783.06L455.00 783.39L456.45 783.79L457.88 784.24L459.29 784.76L460.68 785.33L462.05 785.95L463.40 786.62L464.72 787.33L466.02 788.09L467.30 788.88L468.56 789.70L469.79 790.56L471.00 791.45L472.20 792.36L473.37 793.30L474.52 794.27L475.65 795.26L476.77 796.27L477.86 797.29L478.94 798.34L480.01 799.40L481.05 800.48L482.08 801.58L483.09 802.69L484.09 803.82L485.06 804.96L486.03 806.11L486.97 807.28L487.90 808.46L488.81 809.66L489.70 810.87L490.58 812.08L491.45 813.31L492.30 814.56L493.13 815.81L493.95 817.07L494.75 818.34L495.54 819.62L496.31 820.90L497.08 822.20L497.83 823.50L498.56 824.81L499.29 826.13L500.00 827.45L500.70 828.78L501.39 830.12L502.07 831.46L502.73 832.81L503.39 834.16L504.04 835.51L504.68 836.87L505.32 838.23L505.94 839.60L506.56 840.97L507.17 842.35L507.77 843.72L508.37 845.10L508.96 846.48L509.55 847.87L510.13 849.25L510.71 850.64L511.28 852.03L511.85 853.42L512.42 854.81L512.99 856.20L513.55 857.60L514.11 858.99L514.67 860.39L515.23 861.78L515.79 863.17L516.35 864.57L516.91 865.96L517.47 867.36L518.03 868.75L518.59 870.15L519.15 871.54L519.71 872.94L520.26 874.33L520.82 875.73L521.38 877.13L521.94 878.52L522.50 879.92L523.06 881.31L523.62 882.71L524.17 884.10L524.73 885.50L525.29 886.89L525.85 888.29L526.40 889.68L526.96 891.08L527.52 892.48L528.07 893.87L528.63 895.27L529.19 896.67L529.74 898.06L530.30 899.46L530.85 900.86L531.41 902.25L531.96 903.65L532.51 905.05L533.07 906.44L533.62 907.84L534.17 909.24L534.73 910.64L535.28 912.04L535.83 913.43L536.38 914.83L536.93 916.23L537.48 917.63L538.03 919.03L538.58 920.43L539.12 921.83L539.67 923.23L540.22 924.63L540.77 926.03L541.31 927.43L541.86 928.83L542.40 930.23L542.95 931.63L543.49 933.03L544.03 934.43L544.57 935.83L545.12 937.24L545.66 938.64L546.20 940.04L546.74 941.44L547.28 942.84L547.82 944.25L548.36 945.65L548.90 947.05L549.44 948.46L549.98 949.86L550.51 951.26L551.05 952.67L551.59 954.07L552.13 955.47L552.66 956.88L553.20 958.28L553.74 959.69L554.27 961.09L554.81 962.49L555.34 963.90L555.88 965.30L556.41 966.71L556.95 968.11L557.48 969.52L558.02 970.92L558.55 972.33L559.08 973.73L559.62 975.14L560.15 976.54L560.68 977.95L561.22 979.35L561.75 980.76L562.28 982.16L562.82 983.57L563.35 984.97L563.88 986.38L564.41 987.78L564.95 989.19L565.48 990.59L566.01 992.00L566.55 993.40L567.08 994.81L567.61 996.22L568.14 997.62L568.68 999.03L569.21 1000.43L569.74 1001.84L570.28 1003.24L570.81 1004.65L571.34 1006.05L571.88 1007.46L572.41 1008.86L572.94 1010.27L573.48 1011.67L574.01 1013.08L574.55 1014.48L575.08 1015.89L575.62 1017.29L576.15 1018.69L576.69 1020.10L577.22 1021.50L577.76 1022.91L578.29 1024.31L578.83 1025.72L579.37 1027.12L579.91 1028.52L580.44 1029.93L580.98 1031.33L581.52 1032.73L582.06 1034.14L582.60 1035.54L583.13 1036.94L583.67 1038.35L584.21 1039.75L584.75 1041.15L585.30 1042.55L585.84 1043.95L586.38 1045.36L586.92 1046.76L587.46 1048.16L588.01 1049.56L588.55 1050.96L589.10 1052.36L589.64 1053.76L590.19 1055.16L590.73 1056.56L591.28 1057.96L591.82 1059.36L592.37 1060.76L592.92 1062.16L593.47 1063.56L594.02 1064.96L594.57 1066.36L595.13 1067.76L595.68 1069.15L596.23 1070.55L596.79 1071.95L597.35 1073.34L597.91 1074.74L598.47 1076.13L599.03 1077.53L599.59 1078.92L600.16 1080.31L600.73 1081.70L601.30 1083.09L601.87 1084.48L602.44 1085.87L603.01 1087.26L603.59 1088.65L604.17 1090.04L604.75 1091.42L605.34 1092.81L605.92 1094.19L606.51 1095.57L607.10 1096.96L607.70 1098.34L608.29 1099.72L608.89 1101.09L609.50 1102.47L610.10 1103.85L610.71 1105.22L611.32 1106.59L611.93 1107.97L612.55 1109.34L613.17 1110.71L613.80 1112.07L614.42 1113.44L615.06 1114.80L615.69 1116.16L616.33 1117.53L616.97 1118.88L617.62 1120.24L618.26 1121.60L618.92 1122.95L619.57 1124.30L620.24 1125.65L620.90 1127.00L621.57 1128.35L622.24 1129.69L622.92 1131.03L623.60 1132.37L624.29 1133.71L624.98 1135.04L625.67 1136.38L626.37 1137.71L627.08 1139.03L627.79 1140.36L628.50 1141.68L629.22 1143.00L629.95 1144.32L630.67 1145.63L631.41 1146.94L632.15 1148.25L632.89 1149.56L633.64 1150.86L634.40 1152.16L635.16 1153.46L635.92 1154.75L636.69 1156.04L637.47 1157.33L638.25 1158.61L639.04 1159.89L639.83 1161.17L640.63 1162.44L641.43 1163.71L642.24 1164.98L643.06 1166.24L643.88 1167.50L644.71 1168.75L645.55 1170.00L646.39 1171.25L647.23 1172.49L648.09 1173.73L648.94 1174.96L649.81 1176.19L650.68 1177.41L651.56 1178.63L652.44 1179.85L653.33 1181.06L654.23 1182.27L655.13 1183.47L656.04 1184.66L656.96 1185.86L657.88 1187.04L658.81 1188.22L659.75 1189.40L660.69 1190.57L661.64 1191.73L662.60 1192.89L663.56 1194.04L664.54 1195.19L665.52 1196.32L666.51 1197.45L667.51 1198.57L668.52 1199.69L669.54 1200.79L670.57 1201.88L671.61 1202.97L672.66 1204.04L673.73 1205.11L674.80 1206.16L675.88 1207.21L676.97 1208.24L678.08 1209.25L679.20 1210.26L680.32 1211.25L681.47 1212.23L682.62 1213.20L683.78 1214.14L684.96 1215.08L686.15 1216.00L687.35 1216.90L688.57 1217.79L689.79 1218.65L691.03 1219.51L692.28 1220.34L693.54 1221.15L694.82 1221.95L696.10 1222.73L697.40 1223.50L698.70 1224.24L700.01 1224.97L701.34 1225.69L702.67 1226.38L704.01 1227.06L705.36 1227.73L706.71 1228.38L708.08 1229.01L709.45 1229.62L710.83 1230.22L712.21 1230.81L713.60 1231.38L715.00 1231.93L716.40 1232.47L717.81 1232.99L719.23 1233.49L720.65 1233.99L722.07 1234.46L723.50 1234.92L724.94 1235.37L726.38 1235.80L727.82 1236.22L729.27 1236.62L730.72 1237.01L732.18 1237.39L733.64 1237.75L735.10 1238.09L736.56 1238.43L738.03 1238.75L739.50 1239.06L740.98 1239.35L742.45 1239.63L743.93 1239.90L745.41 1240.16L746.90 1240.41L748.38 1240.64L749.87 1240.86L751.36 1241.07L752.84 1241.27L754.34 1241.46L755.83 1241.64L757.32 1241.81L758.82 1241.97L760.31 1242.12L761.81 1242.26L763.31 1242.39L764.80 1242.51L766.30 1242.62L767.80 1242.73L769.30 1242.82L770.80 1242.91L772.30 1242.99L773.80 1243.06L775.31 1243.13L776.81 1243.18L778.31 1243.23L779.81 1243.28L781.31 1243.32" fill="none" stroke="#b53cff" stroke-width="7" stroke-linejoin="round" stroke-linecap="butt"/>
<line x1="111.25" y1="12.199999999999989" x2="111.25" y2="545" stroke="#000" stroke-width="2"/>
<line x1="111.25" y1="544" x2="771.25" y2="544" stroke="#000" stroke-width="2"/>
<line x1="100.75" y1="543.80" x2="111.25" y2="543.80" stroke="#000" stroke-width="2" stroke-linecap="round"/>
<line x1="100.75" y1="499.50" x2="111.25" y2="499.50" stroke="#000" stroke-width="2" stroke-linecap="round"/>
<line x1="100.75" y1="455.20" x2="111.25" y2="455.20" stroke="#000" stroke-width="2" stroke-linecap="round"/>
<line x1="100.75" y1="410.90" x2="111.25" y2="410.90" stroke="#000" stroke-width="2" stroke-linecap="round"/>
<line x1="100.75" y1="366.60" x2="111.25" y2="366.60" stroke="#000" stroke-width="2" stroke-linecap="round"/>
<line x1="100.75" y1="322.30" x2="111.25" y2="322.30" stroke="#000" stroke-width="2" stroke-linecap="round"/>
<line x1="100.75" y1="278.00" x2="111.25" y2="278.00" stroke="#000" stroke-width="2" stroke-linecap="round"/>
<line x1="100.75" y1="233.70" x2="111.25" y2="233.70" stroke="#000" stroke-width="2" stroke-linecap="round"/>
<line x1="100.75" y1="189.40" x2="111.25" y2="189.40" stroke="#000" stroke-width="2" stroke-linecap="round"/>
<line x1="100.75" y1="145.10" x2="111.25" y2="145.10" stroke="#000" stroke-width="2" stroke-linecap="round"/>
<line x1="100.75" y1="100.80" x2="111.25" y2="100.80" stroke="#000" stroke-width="2" stroke-linecap="round"/>
<line x1="100.75" y1="56.50" x2="111.25" y2="56.50" stroke="#000" stroke-width="2" stroke-linecap="round"/>
<line x1="100.75" y1="12.20" x2="111.25" y2="12.20" stroke="#000" stroke-width="2" stroke-linecap="round"/>
<line x1="106.0" y1="521.65" x2="111.25" y2="521.65" stroke="#000" stroke-width="2" stroke-linecap="round"/>
<line x1="106.0" y1="477.35" x2="111.25" y2="477.35" stroke="#000" stroke-width="2" stroke-linecap="round"/>
<line x1="106.0" y1="433.05" x2="111.25" y2="433.05" stroke="#000" stroke-width="2" stroke-linecap="round"/>
<line x1="106.0" y1="388.75" x2="111.25" y2="388.75" stroke="#000" stroke-width="2" stroke-linecap="round"/>
<line x1="106.0" y1="344.45" x2="111.25" y2="344.45" stroke="#000" stroke-width="2" stroke-linecap="round"/>
<line x1="106.0" y1="300.15" x2="111.25" y2="300.15" stroke="#000" stroke-width="2" stroke-linecap="round"/>
<line x1="106.0" y1="255.85" x2="111.25" y2="255.85" stroke="#000" stroke-width="2" stroke-linecap="round"/>
<line x1="106.0" y1="211.55" x2="111.25" y2="211.55" stroke="#000" stroke-width="2" stroke-linecap="round"/>
<line x1="106.0" y1="167.25" x2="111.25" y2="167.25" stroke="#000" stroke-width="2" stroke-linecap="round"/>
<line x1="106.0" y1="122.95" x2="111.25" y2="122.95" stroke="#000" stroke-width="2" stroke-linecap="round"/>
<line x1="106.0" y1="78.65" x2="111.25" y2="78.65" stroke="#000" stroke-width="2" stroke-linecap="round"/>
<line x1="106.0" y1="34.35" x2="111.25" y2="34.35" stroke="#000" stroke-width="2" stroke-linecap="round"/>
<line x1="111.25" y1="544" x2="111.25" y2="554" stroke="#000" stroke-width="2" stroke-linecap="round"/>
<line x1="193.75" y1="544" x2="193.75" y2="554" stroke="#000" stroke-width="2" stroke-linecap="round"/>
<line x1="276.25" y1="544" x2="276.25" y2="554" stroke="#000" stroke-width="2" stroke-linecap="round"/>
<line x1="358.75" y1="544" x2="358.75" y2="554" stroke="#000" stroke-width="2" stroke-linecap="round"/>
<line x1="441.25" y1="544" x2="441.25" y2="554" stroke="#000" stroke-width="2" stroke-linecap="round"/>
<line x1="523.75" y1="544" x2="523.75" y2="554" stroke="#000" stroke-width="2" stroke-linecap="round"/>
<line x1="606.25" y1="544" x2="606.25" y2="554" stroke="#000" stroke-width="2" stroke-linecap="round"/>
<line x1="688.75" y1="544" x2="688.75" y2="554" stroke="#000" stroke-width="2" stroke-linecap="round"/>
<line x1="771.25" y1="544" x2="771.25" y2="554" stroke="#000" stroke-width="2" stroke-linecap="round"/>
<line x1="152.50" y1="544" x2="152.50" y2="549" stroke="#000" stroke-width="2" stroke-linecap="round"/>
<line x1="235.00" y1="544" x2="235.00" y2="549" stroke="#000" stroke-width="2" stroke-linecap="round"/>
<line x1="317.50" y1="544" x2="317.50" y2="549" stroke="#000" stroke-width="2" stroke-linecap="round"/>
<line x1="400.00" y1="544" x2="400.00" y2="549" stroke="#000" stroke-width="2" stroke-linecap="round"/>
<line x1="482.50" y1="544" x2="482.50" y2="549" stroke="#000" stroke-width="2" stroke-linecap="round"/>
<line x1="565.00" y1="544" x2="565.00" y2="549" stroke="#000" stroke-width="2" stroke-linecap="round"/>
<line x1="647.50" y1="544" x2="647.50" y2="549" stroke="#000" stroke-width="2" stroke-linecap="round"/>
<line x1="730.00" y1="544" x2="730.00" y2="549" stroke="#000" stroke-width="2" stroke-linecap="round"/>
<text transform="translate(94.5 551.22) scale(0.985 1.08)" text-anchor="end" font-size="27" font-weight="bold">-0.1</text>
<text transform="translate(94.5 506.92) scale(0.985 1.08)" text-anchor="end" font-size="27" font-weight="bold">0.0</text>
<text transform="translate(94.5 462.62) scale(0.985 1.08)" text-anchor="end" font-size="27" font-weight="bold">0.1</text>
<text transform="translate(94.5 418.32) scale(0.985 1.08)" text-anchor="end" font-size="27" font-weight="bold">0.2</text>
<text transform="translate(94.5 374.02) scale(0.985 1.08)" text-anchor="end" font-size="27" font-weight="bold">0.3</text>
<text transform="translate(94.5 329.72) scale(0.985 1.08)" text-anchor="end" font-size="27" font-weight="bold">0.4</text>
<text transform="translate(94.5 285.42) scale(0.985 1.08)" text-anchor="end" font-size="27" font-weight="bold">0.5</text>
<text transform="translate(94.5 241.12) scale(0.985 1.08)" text-anchor="end" font-size="27" font-weight="bold">0.6</text>
<text transform="translate(94.5 196.82) scale(0.985 1.08)" text-anchor="end" font-size="27" font-weight="bold">0.7</text>
<text transform="translate(94.5 152.52) scale(0.985 1.08)" text-anchor="end" font-size="27" font-weight="bold">0.8</text>
<text transform="translate(94.5 108.22) scale(0.985 1.08)" text-anchor="end" font-size="27" font-weight="bold">0.9</text>
<text transform="translate(94.5 63.92) scale(0.985 1.08)" text-anchor="end" font-size="27" font-weight="bold">1.0</text>
<text transform="translate(94.5 19.62) scale(0.985 1.08)" text-anchor="end" font-size="27" font-weight="bold">1.1</text>
<text transform="translate(111.25 582.3) scale(0.985 1.08)" text-anchor="middle" font-size="27" font-weight="bold">200</text>
<text transform="translate(193.75 582.3) scale(0.985 1.08)" text-anchor="middle" font-size="27" font-weight="bold">225</text>
<text transform="translate(276.25 582.3) scale(0.985 1.08)" text-anchor="middle" font-size="27" font-weight="bold">250</text>
<text transform="translate(358.75 582.3) scale(0.985 1.08)" text-anchor="middle" font-size="27" font-weight="bold">275</text>
<text transform="translate(441.25 582.3) scale(0.985 1.08)" text-anchor="middle" font-size="27" font-weight="bold">300</text>
<text transform="translate(523.75 582.3) scale(0.985 1.08)" text-anchor="middle" font-size="27" font-weight="bold">325</text>
<text transform="translate(606.25 582.3) scale(0.985 1.08)" text-anchor="middle" font-size="27" font-weight="bold">350</text>
<text transform="translate(688.75 582.3) scale(0.985 1.08)" text-anchor="middle" font-size="27" font-weight="bold">375</text>
<text transform="translate(771.25 582.3) scale(0.985 1.08)" text-anchor="middle" font-size="27" font-weight="bold">400</text>
<line x1="118.5" y1="734.1999999999999" x2="118.5" y2="1270.5" stroke="#000" stroke-width="2"/>
<line x1="118.5" y1="1269.5" x2="781.8199999999999" y2="1269.5" stroke="#000" stroke-width="2"/>
<line x1="108.0" y1="1246.25" x2="118.5" y2="1246.25" stroke="#000" stroke-width="2" stroke-linecap="round"/>
<line x1="108.0" y1="1199.70" x2="118.5" y2="1199.70" stroke="#000" stroke-width="2" stroke-linecap="round"/>
<line x1="108.0" y1="1153.15" x2="118.5" y2="1153.15" stroke="#000" stroke-width="2" stroke-linecap="round"/>
<line x1="108.0" y1="1106.60" x2="118.5" y2="1106.60" stroke="#000" stroke-width="2" stroke-linecap="round"/>
<line x1="108.0" y1="1060.05" x2="118.5" y2="1060.05" stroke="#000" stroke-width="2" stroke-linecap="round"/>
<line x1="108.0" y1="1013.50" x2="118.5" y2="1013.50" stroke="#000" stroke-width="2" stroke-linecap="round"/>
<line x1="108.0" y1="966.95" x2="118.5" y2="966.95" stroke="#000" stroke-width="2" stroke-linecap="round"/>
<line x1="108.0" y1="920.40" x2="118.5" y2="920.40" stroke="#000" stroke-width="2" stroke-linecap="round"/>
<line x1="108.0" y1="873.85" x2="118.5" y2="873.85" stroke="#000" stroke-width="2" stroke-linecap="round"/>
<line x1="108.0" y1="827.30" x2="118.5" y2="827.30" stroke="#000" stroke-width="2" stroke-linecap="round"/>
<line x1="108.0" y1="780.75" x2="118.5" y2="780.75" stroke="#000" stroke-width="2" stroke-linecap="round"/>
<line x1="108.0" y1="734.20" x2="118.5" y2="734.20" stroke="#000" stroke-width="2" stroke-linecap="round"/>
<line x1="113.25" y1="1269.53" x2="118.5" y2="1269.53" stroke="#000" stroke-width="2" stroke-linecap="round"/>
<line x1="113.25" y1="1222.97" x2="118.5" y2="1222.97" stroke="#000" stroke-width="2" stroke-linecap="round"/>
<line x1="113.25" y1="1176.42" x2="118.5" y2="1176.42" stroke="#000" stroke-width="2" stroke-linecap="round"/>
<line x1="113.25" y1="1129.88" x2="118.5" y2="1129.88" stroke="#000" stroke-width="2" stroke-linecap="round"/>
<line x1="113.25" y1="1083.33" x2="118.5" y2="1083.33" stroke="#000" stroke-width="2" stroke-linecap="round"/>
<line x1="113.25" y1="1036.78" x2="118.5" y2="1036.78" stroke="#000" stroke-width="2" stroke-linecap="round"/>
<line x1="113.25" y1="990.22" x2="118.5" y2="990.22" stroke="#000" stroke-width="2" stroke-linecap="round"/>
<line x1="113.25" y1="943.67" x2="118.5" y2="943.67" stroke="#000" stroke-width="2" stroke-linecap="round"/>
<line x1="113.25" y1="897.12" x2="118.5" y2="897.12" stroke="#000" stroke-width="2" stroke-linecap="round"/>
<line x1="113.25" y1="850.58" x2="118.5" y2="850.58" stroke="#000" stroke-width="2" stroke-linecap="round"/>
<line x1="113.25" y1="804.03" x2="118.5" y2="804.03" stroke="#000" stroke-width="2" stroke-linecap="round"/>
<line x1="113.25" y1="757.47" x2="118.5" y2="757.47" stroke="#000" stroke-width="2" stroke-linecap="round"/>
<line x1="118.50" y1="1269.5" x2="118.50" y2="1279.5" stroke="#000" stroke-width="2" stroke-linecap="round"/>
<line x1="176.18" y1="1269.5" x2="176.18" y2="1279.5" stroke="#000" stroke-width="2" stroke-linecap="round"/>
<line x1="233.86" y1="1269.5" x2="233.86" y2="1279.5" stroke="#000" stroke-width="2" stroke-linecap="round"/>
<line x1="291.54" y1="1269.5" x2="291.54" y2="1279.5" stroke="#000" stroke-width="2" stroke-linecap="round"/>
<line x1="349.22" y1="1269.5" x2="349.22" y2="1279.5" stroke="#000" stroke-width="2" stroke-linecap="round"/>
<line x1="406.90" y1="1269.5" x2="406.90" y2="1279.5" stroke="#000" stroke-width="2" stroke-linecap="round"/>
<line x1="464.58" y1="1269.5" x2="464.58" y2="1279.5" stroke="#000" stroke-width="2" stroke-linecap="round"/>
<line x1="522.26" y1="1269.5" x2="522.26" y2="1279.5" stroke="#000" stroke-width="2" stroke-linecap="round"/>
<line x1="579.94" y1="1269.5" x2="579.94" y2="1279.5" stroke="#000" stroke-width="2" stroke-linecap="round"/>
<line x1="637.62" y1="1269.5" x2="637.62" y2="1279.5" stroke="#000" stroke-width="2" stroke-linecap="round"/>
<line x1="695.30" y1="1269.5" x2="695.30" y2="1279.5" stroke="#000" stroke-width="2" stroke-linecap="round"/>
<line x1="752.98" y1="1269.5" x2="752.98" y2="1279.5" stroke="#000" stroke-width="2" stroke-linecap="round"/>
<line x1="147.34" y1="1269.5" x2="147.34" y2="1274.5" stroke="#000" stroke-width="2" stroke-linecap="round"/>
<line x1="205.02" y1="1269.5" x2="205.02" y2="1274.5" stroke="#000" stroke-width="2" stroke-linecap="round"/>
<line x1="262.70" y1="1269.5" x2="262.70" y2="1274.5" stroke="#000" stroke-width="2" stroke-linecap="round"/>
<line x1="320.38" y1="1269.5" x2="320.38" y2="1274.5" stroke="#000" stroke-width="2" stroke-linecap="round"/>
<line x1="378.06" y1="1269.5" x2="378.06" y2="1274.5" stroke="#000" stroke-width="2" stroke-linecap="round"/>
<line x1="435.74" y1="1269.5" x2="435.74" y2="1274.5" stroke="#000" stroke-width="2" stroke-linecap="round"/>
<line x1="493.42" y1="1269.5" x2="493.42" y2="1274.5" stroke="#000" stroke-width="2" stroke-linecap="round"/>
<line x1="551.10" y1="1269.5" x2="551.10" y2="1274.5" stroke="#000" stroke-width="2" stroke-linecap="round"/>
<line x1="608.78" y1="1269.5" x2="608.78" y2="1274.5" stroke="#000" stroke-width="2" stroke-linecap="round"/>
<line x1="666.46" y1="1269.5" x2="666.46" y2="1274.5" stroke="#000" stroke-width="2" stroke-linecap="round"/>
<line x1="724.14" y1="1269.5" x2="724.14" y2="1274.5" stroke="#000" stroke-width="2" stroke-linecap="round"/>
<line x1="781.82" y1="1269.5" x2="781.82" y2="1274.5" stroke="#000" stroke-width="2" stroke-linecap="round"/>
<text transform="translate(101 1253.67) scale(0.985 1.08)" text-anchor="end" font-size="27" font-weight="bold">0.0</text>
<text transform="translate(101 1207.12) scale(0.985 1.08)" text-anchor="end" font-size="27" font-weight="bold">0.1</text>
<text transform="translate(101 1160.57) scale(0.985 1.08)" text-anchor="end" font-size="27" font-weight="bold">0.2</text>
<text transform="translate(101 1114.02) scale(0.985 1.08)" text-anchor="end" font-size="27" font-weight="bold">0.3</text>
<text transform="translate(101 1067.47) scale(0.985 1.08)" text-anchor="end" font-size="27" font-weight="bold">0.4</text>
<text transform="translate(101 1020.92) scale(0.985 1.08)" text-anchor="end" font-size="27" font-weight="bold">0.5</text>
<text transform="translate(101 974.37) scale(0.985 1.08)" text-anchor="end" font-size="27" font-weight="bold">0.6</text>
<text transform="translate(101 927.82) scale(0.985 1.08)" text-anchor="end" font-size="27" font-weight="bold">0.7</text>
<text transform="translate(101 881.27) scale(0.985 1.08)" text-anchor="end" font-size="27" font-weight="bold">0.8</text>
<text transform="translate(101 834.72) scale(0.985 1.08)" text-anchor="end" font-size="27" font-weight="bold">0.9</text>
<text transform="translate(101 788.17) scale(0.985 1.08)" text-anchor="end" font-size="27" font-weight="bold">1.0</text>
<text transform="translate(101 741.62) scale(0.985 1.08)" text-anchor="end" font-size="27" font-weight="bold">1.1</text>
<text transform="translate(118.50 1307.3) scale(0.985 1.08)" text-anchor="middle" font-size="27" font-weight="bold">260</text>
<text transform="translate(176.18 1307.3) scale(0.985 1.08)" text-anchor="middle" font-size="27" font-weight="bold">270</text>
<text transform="translate(233.86 1307.3) scale(0.985 1.08)" text-anchor="middle" font-size="27" font-weight="bold">280</text>
<text transform="translate(291.54 1307.3) scale(0.985 1.08)" text-anchor="middle" font-size="27" font-weight="bold">290</text>
<text transform="translate(349.22 1307.3) scale(0.985 1.08)" text-anchor="middle" font-size="27" font-weight="bold">300</text>
<text transform="translate(406.90 1307.3) scale(0.985 1.08)" text-anchor="middle" font-size="27" font-weight="bold">310</text>
<text transform="translate(464.58 1307.3) scale(0.985 1.08)" text-anchor="middle" font-size="27" font-weight="bold">320</text>
<text transform="translate(522.26 1307.3) scale(0.985 1.08)" text-anchor="middle" font-size="27" font-weight="bold">330</text>
<text transform="translate(579.94 1307.3) scale(0.985 1.08)" text-anchor="middle" font-size="27" font-weight="bold">340</text>
<text transform="translate(637.62 1307.3) scale(0.985 1.08)" text-anchor="middle" font-size="27" font-weight="bold">350</text>
<text transform="translate(695.30 1307.3) scale(0.985 1.08)" text-anchor="middle" font-size="27" font-weight="bold">360</text>
<text transform="translate(752.98 1307.3) scale(0.985 1.08)" text-anchor="middle" font-size="27" font-weight="bold">370</text>
<rect x="518.25" y="68.8" width="226.75" height="192.2" fill="#fff" stroke="#262626" stroke-width="1.8"/>
<line x1="530" y1="94.4" x2="591" y2="94.4" stroke="#ff0000" stroke-width="6.5" stroke-linecap="round"/>
<text x="600" y="104.58" font-size="27.5">DMSO</text>
<line x1="530" y1="128.75" x2="591" y2="128.75" stroke="#5cff00" stroke-width="6.5" stroke-linecap="round"/>
<text x="600" y="138.93" font-size="27.5">THF</text>
<line x1="530" y1="162.6" x2="591" y2="162.6" stroke="#1f3cff" stroke-width="6.5" stroke-linecap="round"/>
<text x="600" y="172.78" font-size="27.5">CHCl<tspan font-size="18.7" dy="11.5">3</tspan></text>
<line x1="530" y1="200" x2="591" y2="200" stroke="#249a72" stroke-width="6.5" stroke-linecap="round"/>
<text x="600" y="210.18" font-size="27.5">Hexane</text>
<line x1="530" y1="234.3" x2="591" y2="234.3" stroke="#b53cff" stroke-width="6.5" stroke-linecap="round"/>
<text x="600" y="244.48" font-size="27.5"><tspan font-style="italic">n</tspan>-Propanol</text>
<rect x="568.6" y="740.8" width="230.29999999999995" height="190.80000000000007" fill="#fff" stroke="#262626" stroke-width="1.8"/>
<line x1="581" y1="765.1" x2="642.5" y2="765.1" stroke="#ff0000" stroke-width="6.5" stroke-linecap="round"/>
<text x="651.5" y="775.35" font-size="27.7">DMSO</text>
<line x1="581" y1="799" x2="642.5" y2="799" stroke="#5cff00" stroke-width="6.5" stroke-linecap="round"/>
<text x="651.5" y="809.25" font-size="27.7">THF</text>
<line x1="581" y1="833.6" x2="642.5" y2="833.6" stroke="#1f3cff" stroke-width="6.5" stroke-linecap="round"/>
<text x="651.5" y="843.85" font-size="27.7">CHCL<tspan font-size="18.8" dy="11.6">3</tspan></text>
<line x1="581" y1="870.7" x2="642.5" y2="870.7" stroke="#249a72" stroke-width="6.5" stroke-linecap="round"/>
<text x="651.5" y="880.95" font-size="27.7">Hexane</text>
<line x1="581" y1="905" x2="642.5" y2="905" stroke="#b53cff" stroke-width="6.5" stroke-linecap="round"/>
<text x="651.5" y="915.25" font-size="27.7"><tspan font-style="italic">n</tspan>-Propanol</text>
</svg>
</body></html>
